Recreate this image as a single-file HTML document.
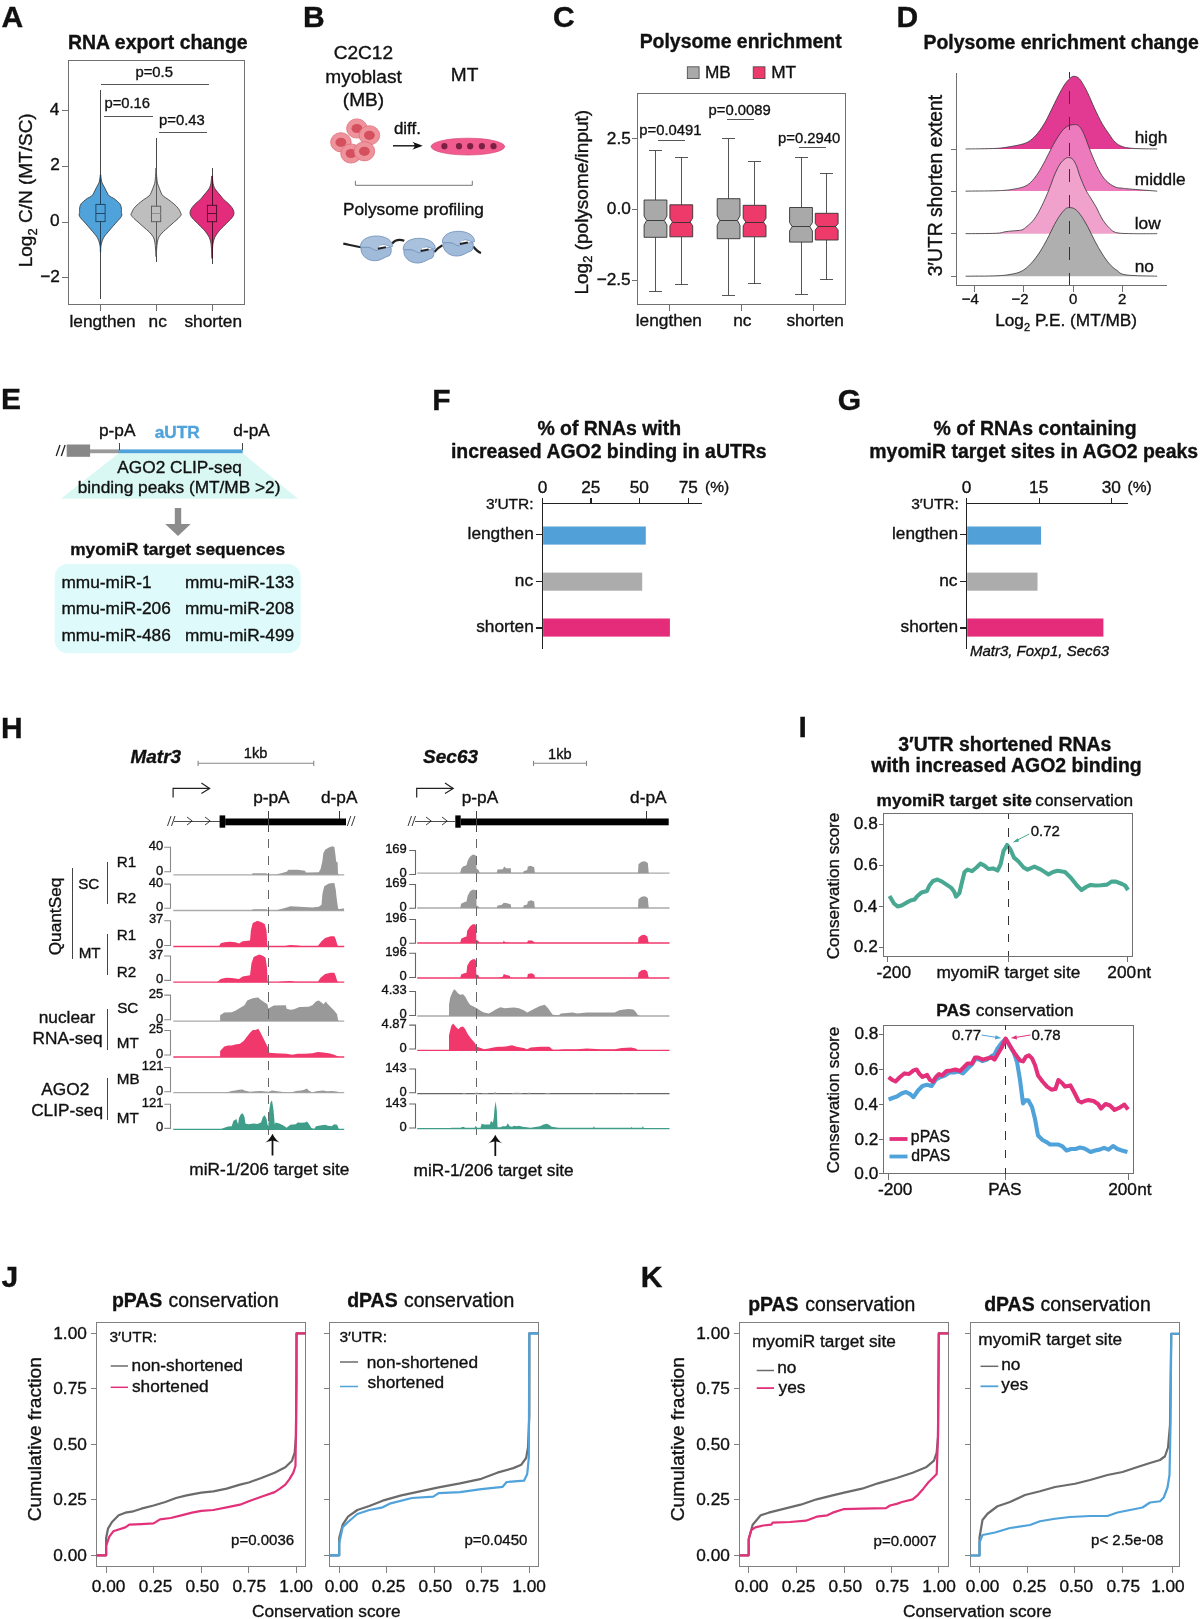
<!DOCTYPE html>
<html><head><meta charset="utf-8"><style>
html,body{margin:0;padding:0;background:#fff;}
svg{display:block;will-change:transform;}
text{font-family:"Liberation Sans", sans-serif;stroke:#111;stroke-width:0.35px;}
</style></head><body>
<svg width="1200" height="1619" viewBox="0 0 1200 1619">
<rect width="1200" height="1619" fill="#fff"/>
<g fill="#111">
<text x="1.60" y="26.80" font-size="30" font-weight="bold">A</text>
<text x="68.04" y="48.60" font-size="19.45" font-weight="bold">RNA export change</text>
<rect x="68.50" y="60.50" width="176.00" height="244.00" fill="none" stroke="#707070" stroke-width="1" shape-rendering="crispEdges"/>
<line x1="62.30" y1="110.50" x2="68.50" y2="110.50" stroke="#707070" stroke-width="1" shape-rendering="crispEdges"/>
<text x="49.86" y="114.70" font-size="17.25">4</text>
<line x1="62.30" y1="166.20" x2="68.50" y2="166.20" stroke="#707070" stroke-width="1" shape-rendering="crispEdges"/>
<text x="50.20" y="170.40" font-size="17.25">2</text>
<line x1="62.30" y1="222.00" x2="68.50" y2="222.00" stroke="#707070" stroke-width="1" shape-rendering="crispEdges"/>
<text x="50.03" y="226.20" font-size="17.25">0</text>
<line x1="62.30" y1="277.80" x2="68.50" y2="277.80" stroke="#707070" stroke-width="1" shape-rendering="crispEdges"/>
<text x="40.20" y="282.00" font-size="17.25">−2</text>
<line x1="100.50" y1="304.10" x2="100.50" y2="310.50" stroke="#707070" stroke-width="1" shape-rendering="crispEdges"/>
<line x1="156.30" y1="304.10" x2="156.30" y2="310.50" stroke="#707070" stroke-width="1" shape-rendering="crispEdges"/>
<line x1="212.10" y1="304.10" x2="212.10" y2="310.50" stroke="#707070" stroke-width="1" shape-rendering="crispEdges"/>
<text x="69.49" y="327.30" font-size="17.25">lengthen</text>
<text x="148.59" y="327.30" font-size="17.25">nc</text>
<text x="184.48" y="327.30" font-size="17.25">shorten</text>
<text transform="translate(32.0,190.3) rotate(-90)" text-anchor="middle" font-size="19">Log<tspan font-size="13" dy="4.5">2</tspan><tspan dy="-4.5"> C/N (MT/SC)</tspan></text>
<line x1="100.50" y1="90.30" x2="100.50" y2="298.60" stroke="#333" stroke-width="0.9" shape-rendering="crispEdges"/>
<path d="M100.70,174.50 C100.85,175.25 100.97,177.58 101.20,179.00 C101.43,180.42 101.57,181.63 102.10,183.00 C102.63,184.37 103.55,185.57 104.40,187.20 C105.25,188.83 106.37,191.32 107.20,192.80 C108.03,194.28 108.30,195.17 109.40,196.10 C110.50,197.03 112.50,197.55 113.80,198.40 C115.10,199.25 116.17,200.28 117.20,201.20 C118.23,202.12 119.35,202.98 120.00,203.90 C120.65,204.82 120.85,205.77 121.10,206.70 C121.35,207.63 121.47,208.57 121.50,209.50 C121.53,210.43 121.23,211.38 121.30,212.30 C121.37,213.22 122.03,214.08 121.90,215.00 C121.77,215.92 121.15,216.87 120.50,217.80 C119.85,218.73 119.25,219.20 118.00,220.60 C116.75,222.00 114.62,224.35 113.00,226.20 C111.38,228.05 109.83,229.85 108.30,231.70 C106.77,233.55 104.92,235.43 103.80,237.30 C102.68,239.17 102.10,241.23 101.60,242.90 C101.10,244.57 100.96,245.78 100.80,247.30 C100.64,248.82 100.73,251.22 100.65,252.00 C100.58,252.78 100.42,252.78 100.35,252.00 C100.27,251.22 100.36,248.82 100.20,247.30 C100.04,245.78 99.90,244.57 99.40,242.90 C98.90,241.23 98.32,239.17 97.20,237.30 C96.08,235.43 94.23,233.55 92.70,231.70 C91.17,229.85 89.62,228.05 88.00,226.20 C86.38,224.35 84.25,222.00 83.00,220.60 C81.75,219.20 81.15,218.73 80.50,217.80 C79.85,216.87 79.23,215.92 79.10,215.00 C78.97,214.08 79.63,213.22 79.70,212.30 C79.77,211.38 79.47,210.43 79.50,209.50 C79.53,208.57 79.65,207.63 79.90,206.70 C80.15,205.77 80.35,204.82 81.00,203.90 C81.65,202.98 82.77,202.12 83.80,201.20 C84.83,200.28 85.90,199.25 87.20,198.40 C88.50,197.55 90.50,197.03 91.60,196.10 C92.70,195.17 92.97,194.28 93.80,192.80 C94.63,191.32 95.75,188.83 96.60,187.20 C97.45,185.57 98.37,184.37 98.90,183.00 C99.43,181.63 99.57,180.42 99.80,179.00 C100.03,177.58 100.15,175.25 100.30,174.50Z" fill="#4FA2DA" stroke="#333" stroke-width="0.8"/>
<line x1="100.50" y1="174.50" x2="100.50" y2="252.00" stroke="#1d3f5a" stroke-width="0.95" shape-rendering="crispEdges"/>
<rect x="95.90" y="204.40" width="9.20" height="17.20" fill="#4FA2DA" stroke="#1d3f5a" stroke-width="0.9"/>
<line x1="95.90" y1="213.30" x2="105.10" y2="213.30" stroke="#1d3f5a" stroke-width="0.9" shape-rendering="crispEdges"/>
<line x1="156.10" y1="138.00" x2="156.10" y2="262.30" stroke="#333" stroke-width="0.9" shape-rendering="crispEdges"/>
<path d="M156.25,168.00 C156.34,169.00 156.39,172.18 156.50,174.00 C156.61,175.82 156.73,177.33 156.90,178.90 C157.07,180.47 157.08,181.82 157.50,183.40 C157.92,184.98 158.80,186.83 159.40,188.40 C160.00,189.97 160.45,191.52 161.10,192.80 C161.75,194.08 162.10,194.98 163.30,196.10 C164.50,197.22 166.53,198.20 168.30,199.50 C170.07,200.80 172.23,202.42 173.90,203.90 C175.57,205.38 177.18,206.92 178.30,208.40 C179.42,209.88 180.13,211.70 180.60,212.80 C181.07,213.90 181.48,214.07 181.10,215.00 C180.72,215.93 179.60,217.10 178.30,218.40 C177.00,219.70 174.97,221.32 173.30,222.80 C171.63,224.28 169.97,225.82 168.30,227.30 C166.63,228.78 164.78,230.22 163.30,231.70 C161.82,233.18 160.32,234.80 159.40,236.20 C158.48,237.60 158.22,238.53 157.80,240.10 C157.38,241.67 157.12,243.78 156.90,245.60 C156.68,247.42 156.61,249.27 156.50,251.00 C156.39,252.73 156.34,255.17 156.25,256.00 C156.16,256.83 156.04,256.83 155.95,256.00 C155.86,255.17 155.81,252.73 155.70,251.00 C155.59,249.27 155.52,247.42 155.30,245.60 C155.08,243.78 154.82,241.67 154.40,240.10 C153.98,238.53 153.72,237.60 152.80,236.20 C151.88,234.80 150.38,233.18 148.90,231.70 C147.42,230.22 145.57,228.78 143.90,227.30 C142.23,225.82 140.57,224.28 138.90,222.80 C137.23,221.32 135.20,219.70 133.90,218.40 C132.60,217.10 131.48,215.93 131.10,215.00 C130.72,214.07 131.13,213.90 131.60,212.80 C132.07,211.70 132.78,209.88 133.90,208.40 C135.02,206.92 136.63,205.38 138.30,203.90 C139.97,202.42 142.13,200.80 143.90,199.50 C145.67,198.20 147.70,197.22 148.90,196.10 C150.10,194.98 150.45,194.08 151.10,192.80 C151.75,191.52 152.20,189.97 152.80,188.40 C153.40,186.83 154.28,184.98 154.70,183.40 C155.12,181.82 155.13,180.47 155.30,178.90 C155.47,177.33 155.59,175.82 155.70,174.00 C155.81,172.18 155.86,169.00 155.95,168.00Z" fill="#BEBEBE" stroke="#333" stroke-width="0.8"/>
<line x1="156.10" y1="168.00" x2="156.10" y2="256.00" stroke="#555" stroke-width="0.95" shape-rendering="crispEdges"/>
<rect x="151.50" y="206.20" width="9.20" height="15.50" fill="#BEBEBE" stroke="#555" stroke-width="0.9"/>
<line x1="151.50" y1="213.90" x2="160.70" y2="213.90" stroke="#888" stroke-width="0.9" shape-rendering="crispEdges"/>
<line x1="212.00" y1="167.80" x2="212.00" y2="263.70" stroke="#333" stroke-width="0.9" shape-rendering="crispEdges"/>
<path d="M212.20,176.00 C212.32,176.48 212.40,177.67 212.55,178.90 C212.70,180.13 212.82,182.02 213.10,183.40 C213.38,184.78 213.73,186.10 214.20,187.20 C214.67,188.30 215.25,189.07 215.90,190.00 C216.55,190.93 217.27,191.78 218.10,192.80 C218.93,193.82 219.97,194.98 220.90,196.10 C221.83,197.22 222.58,198.38 223.70,199.50 C224.82,200.62 226.40,201.68 227.60,202.80 C228.80,203.92 229.98,205.08 230.90,206.20 C231.82,207.32 232.58,208.40 233.10,209.50 C233.62,210.60 234.00,211.68 234.00,212.80 C234.00,213.92 233.70,215.08 233.10,216.20 C232.50,217.32 231.42,218.40 230.40,219.50 C229.38,220.60 228.12,221.68 227.00,222.80 C225.88,223.92 224.82,225.08 223.70,226.20 C222.58,227.32 221.32,228.38 220.30,229.50 C219.28,230.62 218.52,231.60 217.60,232.90 C216.68,234.20 215.55,235.63 214.80,237.30 C214.05,238.97 213.47,241.05 213.10,242.90 C212.72,244.75 212.69,246.55 212.55,248.40 C212.41,250.25 212.32,252.40 212.25,254.00 C212.18,255.60 212.22,257.33 212.15,258.00 C212.08,258.67 211.92,258.67 211.85,258.00 C211.78,257.33 211.82,255.60 211.75,254.00 C211.68,252.40 211.59,250.25 211.45,248.40 C211.31,246.55 211.28,244.75 210.90,242.90 C210.53,241.05 209.95,238.97 209.20,237.30 C208.45,235.63 207.32,234.20 206.40,232.90 C205.48,231.60 204.72,230.62 203.70,229.50 C202.68,228.38 201.42,227.32 200.30,226.20 C199.18,225.08 198.12,223.92 197.00,222.80 C195.88,221.68 194.62,220.60 193.60,219.50 C192.58,218.40 191.50,217.32 190.90,216.20 C190.30,215.08 190.00,213.92 190.00,212.80 C190.00,211.68 190.38,210.60 190.90,209.50 C191.42,208.40 192.18,207.32 193.10,206.20 C194.02,205.08 195.20,203.92 196.40,202.80 C197.60,201.68 199.18,200.62 200.30,199.50 C201.42,198.38 202.17,197.22 203.10,196.10 C204.03,194.98 205.07,193.82 205.90,192.80 C206.73,191.78 207.45,190.93 208.10,190.00 C208.75,189.07 209.33,188.30 209.80,187.20 C210.27,186.10 210.62,184.78 210.90,183.40 C211.18,182.02 211.30,180.13 211.45,178.90 C211.60,177.67 211.68,176.48 211.80,176.00Z" fill="#E32C7B" stroke="#333" stroke-width="0.8"/>
<line x1="212.00" y1="176.00" x2="212.00" y2="258.00" stroke="#4a0f25" stroke-width="0.95" shape-rendering="crispEdges"/>
<rect x="207.40" y="205.30" width="9.20" height="16.40" fill="#E32C7B" stroke="#4a0f25" stroke-width="0.9"/>
<line x1="207.40" y1="213.40" x2="216.60" y2="213.40" stroke="#4a0f25" stroke-width="0.9" shape-rendering="crispEdges"/>
<line x1="100.50" y1="84.50" x2="209.40" y2="84.50" stroke="#555" stroke-width="1" shape-rendering="crispEdges"/>
<line x1="104.00" y1="116.40" x2="152.50" y2="116.40" stroke="#555" stroke-width="1" shape-rendering="crispEdges"/>
<line x1="158.50" y1="132.30" x2="207.00" y2="132.30" stroke="#555" stroke-width="1" shape-rendering="crispEdges"/>
<text x="135.51" y="77.30" font-size="14.8">p=0.5</text>
<text x="104.41" y="107.50" font-size="14.8">p=0.16</text>
<text x="159.11" y="125.40" font-size="14.8">p=0.43</text>
<text x="303.10" y="26.70" font-size="30" font-weight="bold">B</text>
<text x="333.65" y="59.40" font-size="19.1">C2C12</text>
<text x="325.36" y="82.90" font-size="19.1">myoblast</text>
<text x="342.85" y="106.00" font-size="19.1">(MB)</text>
<text x="450.77" y="81.30" font-size="19.1">MT</text>
<ellipse cx="356.9" cy="128.5" rx="10.3" ry="9.6" fill="#EE939B" stroke="#DE6E7B" stroke-width="0.8"/>
<ellipse cx="356.9" cy="128.5" rx="5.4" ry="4.6" fill="#D5505E"/>
<ellipse cx="369.4" cy="135.3" rx="10.3" ry="9.6" fill="#EE939B" stroke="#DE6E7B" stroke-width="0.8"/>
<ellipse cx="369.4" cy="135.3" rx="5.4" ry="4.6" fill="#D5505E"/>
<ellipse cx="340.9" cy="142.3" rx="10.3" ry="9.6" fill="#EE939B" stroke="#DE6E7B" stroke-width="0.8"/>
<ellipse cx="340.9" cy="142.3" rx="5.4" ry="4.6" fill="#D5505E"/>
<ellipse cx="351.0" cy="153.5" rx="10.3" ry="9.6" fill="#EE939B" stroke="#DE6E7B" stroke-width="0.8"/>
<ellipse cx="351.0" cy="153.5" rx="5.4" ry="4.6" fill="#D5505E"/>
<ellipse cx="364.4" cy="151.3" rx="10.3" ry="9.6" fill="#EE939B" stroke="#DE6E7B" stroke-width="0.8"/>
<ellipse cx="364.4" cy="151.3" rx="5.4" ry="4.6" fill="#D5505E"/>
<text x="393.92" y="134.40" font-size="16.9">diff.</text>
<line x1="393.00" y1="145.80" x2="416.00" y2="145.80" stroke="#111" stroke-width="1.4"/>
<path d="M422.7,145.8 C419.5,144.6 415.5,143 412.3,141.8 C413.8,143.3 414.6,144.6 414.6,145.8 C414.6,147 413.8,148.3 412.3,149.8 C415.5,148.6 419.5,147 422.7,145.8 Z" fill="#111" stroke="none" stroke-width="1"/>
<ellipse cx="467.9" cy="146.6" rx="36.8" ry="8.4" fill="#F25B8E" stroke="#D44A7C" stroke-width="0.7"/>
<circle cx="444.4" cy="146.2" r="3.1" fill="#7B2043"/>
<circle cx="459.0" cy="146.2" r="3.1" fill="#7B2043"/>
<circle cx="470.2" cy="146.2" r="3.1" fill="#7B2043"/>
<circle cx="481.9" cy="146.2" r="3.1" fill="#7B2043"/>
<circle cx="493.5" cy="146.2" r="3.1" fill="#7B2043"/>
<path d="M355.4,180.8 L355.4,185.3 L472.3,185.3 L472.3,180.8" fill="none" stroke="#666" stroke-width="0.9"/>
<text x="343.02" y="215.20" font-size="17.25">Polysome profiling</text>
<path d="M343.3,243.7 C350,245 356,246.5 362,247.3" fill="none" stroke="#222" stroke-width="2.2"/>
<path d="M392,243.7 C395,240 399,239 404.3,240.7" fill="none" stroke="#222" stroke-width="2.2"/>
<path d="M434.3,252 C437,249 439,247 442.5,245.3" fill="none" stroke="#222" stroke-width="2.2"/>
<path d="M473.2,246.5 C476,250 478,252 481,253" fill="none" stroke="#222" stroke-width="2.2"/>
<path d="M361.2,247.4 C359.9,254.4 366.4,260.7 374.4,260.7 C381.4,260.7 384.4,256.9 388.9,255.9 C391.4,254.9 391.4,250.4 391.0,247.4 Z" fill="#A0BAD9" stroke="#7594BE" stroke-width="0.9"/>
<path d="M360.4,247.20000000000002 C360.09999999999997,239.4 368.4,236.0 376.4,236.0 C385.4,236.0 393.0,240.4 392.4,246.4 C389.4,247.6 387.9,244.6 383.4,244.6 C379.9,244.6 378.9,250.6 376.9,250.6 C373.9,250.6 371.4,247.20000000000002 367.4,247.20000000000002 C364.4,247.20000000000002 362.4,247.6 360.4,247.20000000000002 Z" fill="#A9C1DD" stroke="#7594BE" stroke-width="0.9"/>
<ellipse cx="382.59999999999997" cy="247.0" rx="3.6" ry="1.7" fill="#fff"/>
<path d="M377.9,248.70000000000002 L385.9,247.20000000000002" fill="none" stroke="#222" stroke-width="2.0"/>
<path d="M404.0,249.7 C402.7,256.7 409.2,263.0 417.2,263.0 C424.2,263.0 427.2,259.2 431.7,258.2 C434.2,257.2 434.2,252.7 433.8,249.7 Z" fill="#A0BAD9" stroke="#7594BE" stroke-width="0.9"/>
<path d="M403.2,249.5 C402.9,241.7 411.2,238.29999999999998 419.2,238.29999999999998 C428.2,238.29999999999998 435.8,242.7 435.2,248.7 C432.2,249.89999999999998 430.7,246.89999999999998 426.2,246.89999999999998 C422.7,246.89999999999998 421.7,252.89999999999998 419.7,252.89999999999998 C416.7,252.89999999999998 414.2,249.5 410.2,249.5 C407.2,249.5 405.2,249.89999999999998 403.2,249.5 Z" fill="#A9C1DD" stroke="#7594BE" stroke-width="0.9"/>
<ellipse cx="425.4" cy="249.29999999999998" rx="3.6" ry="1.7" fill="#fff"/>
<path d="M420.7,251.0 L428.7,249.5" fill="none" stroke="#222" stroke-width="2.0"/>
<path d="M443.2,242.7 C441.9,249.7 448.4,256.0 456.4,256.0 C463.4,256.0 466.4,252.2 470.9,251.2 C473.4,250.2 473.4,245.7 473.0,242.7 Z" fill="#A0BAD9" stroke="#7594BE" stroke-width="0.9"/>
<path d="M442.4,242.5 C442.09999999999997,234.7 450.4,231.29999999999998 458.4,231.29999999999998 C467.4,231.29999999999998 475.0,235.7 474.4,241.7 C471.4,242.89999999999998 469.9,239.89999999999998 465.4,239.89999999999998 C461.9,239.89999999999998 460.9,245.89999999999998 458.9,245.89999999999998 C455.9,245.89999999999998 453.4,242.5 449.4,242.5 C446.4,242.5 444.4,242.89999999999998 442.4,242.5 Z" fill="#A9C1DD" stroke="#7594BE" stroke-width="0.9"/>
<ellipse cx="464.59999999999997" cy="242.29999999999998" rx="3.6" ry="1.7" fill="#fff"/>
<path d="M459.9,244.0 L467.9,242.5" fill="none" stroke="#222" stroke-width="2.0"/>
<text x="553.10" y="27.30" font-size="30" font-weight="bold">C</text>
<text x="639.64" y="48.20" font-size="19.45" font-weight="bold">Polysome enrichment</text>
<rect x="687.30" y="66.80" width="11.80" height="11.80" fill="#A9A9A9" stroke="#444" stroke-width="0.8"/>
<text x="704.92" y="78.30" font-size="17.25">MB</text>
<rect x="753.20" y="66.80" width="11.80" height="11.80" fill="#EE3A6B" stroke="#444" stroke-width="0.8"/>
<text x="771.22" y="78.30" font-size="17.25">MT</text>
<rect x="637.50" y="93.50" width="208.00" height="211.00" fill="none" stroke="#707070" stroke-width="1" shape-rendering="crispEdges"/>
<line x1="631.70" y1="138.70" x2="637.80" y2="138.70" stroke="#707070" stroke-width="1" shape-rendering="crispEdges"/>
<text x="606.81" y="143.50" font-size="17.25">2.5</text>
<line x1="631.70" y1="209.30" x2="637.80" y2="209.30" stroke="#707070" stroke-width="1" shape-rendering="crispEdges"/>
<text x="606.81" y="214.10" font-size="17.25">0.0</text>
<line x1="631.70" y1="280.00" x2="637.80" y2="280.00" stroke="#707070" stroke-width="1" shape-rendering="crispEdges"/>
<text x="596.63" y="284.80" font-size="17.25">−2.5</text>
<line x1="669.50" y1="304.50" x2="669.50" y2="311.20" stroke="#707070" stroke-width="1" shape-rendering="crispEdges"/>
<line x1="741.50" y1="304.50" x2="741.50" y2="311.20" stroke="#707070" stroke-width="1" shape-rendering="crispEdges"/>
<line x1="813.80" y1="304.50" x2="813.80" y2="311.20" stroke="#707070" stroke-width="1" shape-rendering="crispEdges"/>
<text x="635.79" y="326.20" font-size="17.25">lengthen</text>
<text x="733.29" y="326.20" font-size="17.25">nc</text>
<text x="786.38" y="326.20" font-size="17.25">shorten</text>
<text transform="translate(587.5,202.2) rotate(-90)" text-anchor="middle" font-size="19">Log<tspan font-size="13" dy="4.5">2</tspan><tspan dy="-4.5"> (polysome/input)</tspan></text>
<line x1="655.50" y1="150.00" x2="655.50" y2="200.00" stroke="#444" stroke-width="0.9" shape-rendering="crispEdges"/>
<line x1="655.50" y1="237.30" x2="655.50" y2="291.50" stroke="#444" stroke-width="0.9" shape-rendering="crispEdges"/>
<line x1="649.00" y1="150.00" x2="662.00" y2="150.00" stroke="#444" stroke-width="0.9" shape-rendering="crispEdges"/>
<line x1="649.00" y1="291.50" x2="662.00" y2="291.50" stroke="#444" stroke-width="0.9" shape-rendering="crispEdges"/>
<path d="M644.1,200 L666.9,200 L666.9,216.024 L664.3,220.5 L666.9,224.976 L666.9,237.3 L644.1,237.3 L644.1,224.976 L646.7,220.5 L644.1,216.024 Z" fill="#A9A9A9" stroke="#333" stroke-width="0.9"/>
<line x1="646.70" y1="220.50" x2="664.30" y2="220.50" stroke="#333" stroke-width="0.9" shape-rendering="crispEdges"/>
<line x1="681.30" y1="157.30" x2="681.30" y2="204.80" stroke="#444" stroke-width="0.9" shape-rendering="crispEdges"/>
<line x1="681.30" y1="236.80" x2="681.30" y2="284.50" stroke="#444" stroke-width="0.9" shape-rendering="crispEdges"/>
<line x1="674.80" y1="157.30" x2="687.80" y2="157.30" stroke="#444" stroke-width="0.9" shape-rendering="crispEdges"/>
<line x1="674.80" y1="284.50" x2="687.80" y2="284.50" stroke="#444" stroke-width="0.9" shape-rendering="crispEdges"/>
<path d="M669.9,204.8 L692.6999999999999,204.8 L692.6999999999999,218.16 L690.0999999999999,222 L692.6999999999999,225.84 L692.6999999999999,236.8 L669.9,236.8 L669.9,225.84 L672.5,222 L669.9,218.16 Z" fill="#EE3A6B" stroke="#333" stroke-width="0.9"/>
<line x1="672.50" y1="222.00" x2="690.10" y2="222.00" stroke="#333" stroke-width="0.9" shape-rendering="crispEdges"/>
<line x1="728.60" y1="138.70" x2="728.60" y2="198.70" stroke="#444" stroke-width="0.9" shape-rendering="crispEdges"/>
<line x1="728.60" y1="238.70" x2="728.60" y2="295.20" stroke="#444" stroke-width="0.9" shape-rendering="crispEdges"/>
<line x1="722.10" y1="138.70" x2="735.10" y2="138.70" stroke="#444" stroke-width="0.9" shape-rendering="crispEdges"/>
<line x1="722.10" y1="295.20" x2="735.10" y2="295.20" stroke="#444" stroke-width="0.9" shape-rendering="crispEdges"/>
<path d="M717.2,198.7 L740.0,198.7 L740.0,215.7 L737.4,220.5 L740.0,225.3 L740.0,238.7 L717.2,238.7 L717.2,225.3 L719.8000000000001,220.5 L717.2,215.7 Z" fill="#A9A9A9" stroke="#333" stroke-width="0.9"/>
<line x1="719.80" y1="220.50" x2="737.40" y2="220.50" stroke="#333" stroke-width="0.9" shape-rendering="crispEdges"/>
<line x1="754.60" y1="161.90" x2="754.60" y2="205.30" stroke="#444" stroke-width="0.9" shape-rendering="crispEdges"/>
<line x1="754.60" y1="236.80" x2="754.60" y2="283.50" stroke="#444" stroke-width="0.9" shape-rendering="crispEdges"/>
<line x1="748.10" y1="161.90" x2="761.10" y2="161.90" stroke="#444" stroke-width="0.9" shape-rendering="crispEdges"/>
<line x1="748.10" y1="283.50" x2="761.10" y2="283.50" stroke="#444" stroke-width="0.9" shape-rendering="crispEdges"/>
<path d="M743.2,205.3 L766.0,205.3 L766.0,218.22 L763.4,222 L766.0,225.78 L766.0,236.8 L743.2,236.8 L743.2,225.78 L745.8000000000001,222 L743.2,218.22 Z" fill="#EE3A6B" stroke="#333" stroke-width="0.9"/>
<line x1="745.80" y1="222.00" x2="763.40" y2="222.00" stroke="#333" stroke-width="0.9" shape-rendering="crispEdges"/>
<line x1="801.00" y1="157.30" x2="801.00" y2="207.50" stroke="#444" stroke-width="0.9" shape-rendering="crispEdges"/>
<line x1="801.00" y1="242.10" x2="801.00" y2="294.10" stroke="#444" stroke-width="0.9" shape-rendering="crispEdges"/>
<line x1="794.50" y1="157.30" x2="807.50" y2="157.30" stroke="#444" stroke-width="0.9" shape-rendering="crispEdges"/>
<line x1="794.50" y1="294.10" x2="807.50" y2="294.10" stroke="#444" stroke-width="0.9" shape-rendering="crispEdges"/>
<path d="M789.6,207.5 L812.4,207.5 L812.4,222.548 L809.8,226.7 L812.4,230.85199999999998 L812.4,242.1 L789.6,242.1 L789.6,230.85199999999998 L792.2,226.7 L789.6,222.548 Z" fill="#A9A9A9" stroke="#333" stroke-width="0.9"/>
<line x1="792.20" y1="226.70" x2="809.80" y2="226.70" stroke="#333" stroke-width="0.9" shape-rendering="crispEdges"/>
<line x1="826.70" y1="173.30" x2="826.70" y2="213.30" stroke="#444" stroke-width="0.9" shape-rendering="crispEdges"/>
<line x1="826.70" y1="240.00" x2="826.70" y2="279.50" stroke="#444" stroke-width="0.9" shape-rendering="crispEdges"/>
<line x1="820.20" y1="173.30" x2="833.20" y2="173.30" stroke="#444" stroke-width="0.9" shape-rendering="crispEdges"/>
<line x1="820.20" y1="279.50" x2="833.20" y2="279.50" stroke="#444" stroke-width="0.9" shape-rendering="crispEdges"/>
<path d="M815.3000000000001,213.3 L838.1,213.3 L838.1,223.49599999999998 L835.5,226.7 L838.1,229.904 L838.1,240.0 L815.3000000000001,240.0 L815.3000000000001,229.904 L817.9000000000001,226.7 L815.3000000000001,223.49599999999998 Z" fill="#EE3A6B" stroke="#333" stroke-width="0.9"/>
<line x1="817.90" y1="226.70" x2="835.50" y2="226.70" stroke="#333" stroke-width="0.9" shape-rendering="crispEdges"/>
<line x1="658.30" y1="140.00" x2="685.00" y2="140.00" stroke="#444" stroke-width="0.9" shape-rendering="crispEdges"/>
<text x="639.31" y="134.70" font-size="14.8">p=0.0491</text>
<line x1="727.00" y1="119.20" x2="754.30" y2="119.20" stroke="#444" stroke-width="0.9" shape-rendering="crispEdges"/>
<text x="708.61" y="114.70" font-size="14.8">p=0.0089</text>
<line x1="799.00" y1="147.20" x2="825.80" y2="147.20" stroke="#444" stroke-width="0.9" shape-rendering="crispEdges"/>
<text x="778.11" y="142.70" font-size="14.8">p=0.2940</text>
<text x="896.60" y="26.70" font-size="30" font-weight="bold">D</text>
<text x="923.44" y="49.00" font-size="19.45" font-weight="bold">Polysome enrichment change</text>
<path d="M965.58,148.97 C970.63,148.88 988.35,148.81 995.83,148.42 C1003.32,148.02 1005.92,147.35 1010.50,146.58 C1015.08,145.82 1019.97,144.90 1023.33,143.83 C1026.70,142.76 1028.22,142.00 1030.67,140.17 C1033.11,138.33 1035.56,135.89 1038.00,132.83 C1040.45,129.78 1042.89,126.11 1045.33,121.83 C1047.78,117.56 1050.22,112.06 1052.67,107.17 C1055.11,102.28 1057.86,96.47 1060.00,92.50 C1062.14,88.53 1063.67,85.84 1065.50,83.33 C1067.33,80.83 1069.47,78.63 1071.00,77.47 C1072.53,76.31 1073.45,76.31 1074.67,76.37 C1075.89,76.43 1077.11,76.83 1078.33,77.83 C1079.56,78.84 1080.47,79.97 1082.00,82.42 C1083.53,84.86 1085.36,88.07 1087.50,92.50 C1089.64,96.93 1092.39,103.81 1094.83,109.00 C1097.28,114.19 1099.72,119.39 1102.17,123.67 C1104.61,127.94 1107.36,131.61 1109.50,134.67 C1111.64,137.72 1112.86,140.01 1115.00,142.00 C1117.14,143.99 1119.28,145.51 1122.33,146.58 C1125.39,147.65 1127.53,148.02 1133.33,148.42 C1139.14,148.81 1153.20,148.88 1157.17,148.97 L1157.17,149.00 L965.58,149.00 Z" fill="#E23A93" stroke="none" stroke-width="1"/>
<path d="M965.58,148.97 C970.63,148.88 988.35,148.81 995.83,148.42 C1003.32,148.02 1005.92,147.35 1010.50,146.58 C1015.08,145.82 1019.97,144.90 1023.33,143.83 C1026.70,142.76 1028.22,142.00 1030.67,140.17 C1033.11,138.33 1035.56,135.89 1038.00,132.83 C1040.45,129.78 1042.89,126.11 1045.33,121.83 C1047.78,117.56 1050.22,112.06 1052.67,107.17 C1055.11,102.28 1057.86,96.47 1060.00,92.50 C1062.14,88.53 1063.67,85.84 1065.50,83.33 C1067.33,80.83 1069.47,78.63 1071.00,77.47 C1072.53,76.31 1073.45,76.31 1074.67,76.37 C1075.89,76.43 1077.11,76.83 1078.33,77.83 C1079.56,78.84 1080.47,79.97 1082.00,82.42 C1083.53,84.86 1085.36,88.07 1087.50,92.50 C1089.64,96.93 1092.39,103.81 1094.83,109.00 C1097.28,114.19 1099.72,119.39 1102.17,123.67 C1104.61,127.94 1107.36,131.61 1109.50,134.67 C1111.64,137.72 1112.86,140.01 1115.00,142.00 C1117.14,143.99 1119.28,145.51 1122.33,146.58 C1125.39,147.65 1127.53,148.02 1133.33,148.42 C1139.14,148.81 1153.20,148.88 1157.17,148.97" fill="none" stroke="#333" stroke-width="0.8"/>
<path d="M965.58,191.13 C970.63,191.07 988.35,191.01 995.83,190.77 C1003.32,190.52 1005.92,190.31 1010.50,189.67 C1015.08,189.03 1019.97,188.14 1023.33,186.92 C1026.70,185.70 1028.22,184.63 1030.67,182.33 C1033.11,180.04 1035.56,176.83 1038.00,173.17 C1040.45,169.50 1043.04,164.61 1045.33,160.33 C1047.63,156.06 1049.61,151.47 1051.75,147.50 C1053.89,143.53 1056.18,139.56 1058.17,136.50 C1060.15,133.45 1061.83,131.00 1063.67,129.17 C1065.50,127.33 1067.33,126.26 1069.17,125.50 C1071.00,124.74 1073.14,124.58 1074.67,124.58 C1076.20,124.58 1077.11,124.58 1078.33,125.50 C1079.56,126.42 1080.78,127.94 1082.00,130.08 C1083.22,132.22 1084.14,134.51 1085.67,138.33 C1087.20,142.15 1089.03,147.81 1091.17,153.00 C1093.31,158.20 1096.06,164.92 1098.50,169.50 C1100.95,174.08 1103.08,177.60 1105.83,180.50 C1108.58,183.40 1112.25,185.63 1115.00,186.92 C1117.75,188.20 1119.28,187.80 1122.33,188.20 C1125.39,188.60 1127.53,188.81 1133.33,189.30 C1139.14,189.79 1153.20,190.83 1157.17,191.13 L1157.17,191.10 L965.58,191.10 Z" fill="#EC7ABC" stroke="none" stroke-width="1"/>
<path d="M965.58,191.13 C970.63,191.07 988.35,191.01 995.83,190.77 C1003.32,190.52 1005.92,190.31 1010.50,189.67 C1015.08,189.03 1019.97,188.14 1023.33,186.92 C1026.70,185.70 1028.22,184.63 1030.67,182.33 C1033.11,180.04 1035.56,176.83 1038.00,173.17 C1040.45,169.50 1043.04,164.61 1045.33,160.33 C1047.63,156.06 1049.61,151.47 1051.75,147.50 C1053.89,143.53 1056.18,139.56 1058.17,136.50 C1060.15,133.45 1061.83,131.00 1063.67,129.17 C1065.50,127.33 1067.33,126.26 1069.17,125.50 C1071.00,124.74 1073.14,124.58 1074.67,124.58 C1076.20,124.58 1077.11,124.58 1078.33,125.50 C1079.56,126.42 1080.78,127.94 1082.00,130.08 C1083.22,132.22 1084.14,134.51 1085.67,138.33 C1087.20,142.15 1089.03,147.81 1091.17,153.00 C1093.31,158.20 1096.06,164.92 1098.50,169.50 C1100.95,174.08 1103.08,177.60 1105.83,180.50 C1108.58,183.40 1112.25,185.63 1115.00,186.92 C1117.75,188.20 1119.28,187.80 1122.33,188.20 C1125.39,188.60 1127.53,188.81 1133.33,189.30 C1139.14,189.79 1153.20,190.83 1157.17,191.13" fill="none" stroke="#333" stroke-width="0.8"/>
<path d="M965.58,233.67 C970.63,233.61 989.26,233.61 995.83,233.30 C1002.40,233.00 1002.25,232.23 1005.00,231.83 C1007.75,231.44 1009.58,231.22 1012.33,230.92 C1015.08,230.61 1019.06,230.77 1021.50,230.00 C1023.95,229.24 1024.86,228.17 1027.00,226.33 C1029.14,224.50 1031.89,222.36 1034.33,219.00 C1036.78,215.64 1039.22,211.06 1041.67,206.17 C1044.11,201.28 1046.86,194.86 1049.00,189.67 C1051.14,184.47 1052.67,179.28 1054.50,175.00 C1056.33,170.72 1058.17,166.75 1060.00,164.00 C1061.83,161.25 1063.97,159.57 1065.50,158.50 C1067.03,157.43 1067.95,157.43 1069.17,157.58 C1070.39,157.74 1071.61,158.04 1072.83,159.42 C1074.06,160.79 1075.28,162.93 1076.50,165.83 C1077.72,168.74 1078.64,172.86 1080.17,176.83 C1081.70,180.81 1083.83,186.00 1085.67,189.67 C1087.50,193.33 1089.33,195.78 1091.17,198.83 C1093.00,201.89 1094.83,204.64 1096.67,208.00 C1098.50,211.36 1100.03,215.64 1102.17,219.00 C1104.31,222.36 1107.06,225.88 1109.50,228.17 C1111.95,230.46 1112.86,231.83 1116.83,232.75 C1120.81,233.67 1126.61,233.52 1133.33,233.67 C1140.06,233.82 1153.20,233.67 1157.17,233.67 L1157.17,233.70 L965.58,233.70 Z" fill="#F0A2CD" stroke="none" stroke-width="1"/>
<path d="M965.58,233.67 C970.63,233.61 989.26,233.61 995.83,233.30 C1002.40,233.00 1002.25,232.23 1005.00,231.83 C1007.75,231.44 1009.58,231.22 1012.33,230.92 C1015.08,230.61 1019.06,230.77 1021.50,230.00 C1023.95,229.24 1024.86,228.17 1027.00,226.33 C1029.14,224.50 1031.89,222.36 1034.33,219.00 C1036.78,215.64 1039.22,211.06 1041.67,206.17 C1044.11,201.28 1046.86,194.86 1049.00,189.67 C1051.14,184.47 1052.67,179.28 1054.50,175.00 C1056.33,170.72 1058.17,166.75 1060.00,164.00 C1061.83,161.25 1063.97,159.57 1065.50,158.50 C1067.03,157.43 1067.95,157.43 1069.17,157.58 C1070.39,157.74 1071.61,158.04 1072.83,159.42 C1074.06,160.79 1075.28,162.93 1076.50,165.83 C1077.72,168.74 1078.64,172.86 1080.17,176.83 C1081.70,180.81 1083.83,186.00 1085.67,189.67 C1087.50,193.33 1089.33,195.78 1091.17,198.83 C1093.00,201.89 1094.83,204.64 1096.67,208.00 C1098.50,211.36 1100.03,215.64 1102.17,219.00 C1104.31,222.36 1107.06,225.88 1109.50,228.17 C1111.95,230.46 1112.86,231.83 1116.83,232.75 C1120.81,233.67 1126.61,233.52 1133.33,233.67 C1140.06,233.82 1153.20,233.67 1157.17,233.67" fill="none" stroke="#333" stroke-width="0.8"/>
<path d="M965.58,276.20 C970.63,276.14 988.35,276.14 995.83,275.84 C1003.32,275.53 1006.22,275.13 1010.50,274.37 C1014.78,273.60 1018.14,272.99 1021.50,271.25 C1024.86,269.51 1027.61,267.13 1030.67,263.92 C1033.72,260.71 1037.08,256.13 1039.83,252.00 C1042.58,247.88 1044.72,243.75 1047.17,239.17 C1049.61,234.58 1052.36,228.47 1054.50,224.50 C1056.64,220.53 1058.17,217.93 1060.00,215.33 C1061.83,212.74 1063.91,210.20 1065.50,208.92 C1067.09,207.63 1068.01,207.63 1069.53,207.63 C1071.06,207.63 1072.90,207.79 1074.67,208.92 C1076.44,210.05 1078.03,211.52 1080.17,214.42 C1082.31,217.32 1085.06,221.90 1087.50,226.33 C1089.95,230.77 1092.39,236.42 1094.83,241.00 C1097.28,245.58 1099.72,250.02 1102.17,253.83 C1104.61,257.65 1107.06,261.17 1109.50,263.92 C1111.95,266.67 1114.08,268.50 1116.83,270.34 C1119.58,272.17 1119.28,273.94 1126.00,274.92 C1132.72,275.90 1151.97,275.99 1157.17,276.20 L1157.17,276.20 L965.58,276.20 Z" fill="#AFAFAF" stroke="none" stroke-width="1"/>
<path d="M965.58,276.20 C970.63,276.14 988.35,276.14 995.83,275.84 C1003.32,275.53 1006.22,275.13 1010.50,274.37 C1014.78,273.60 1018.14,272.99 1021.50,271.25 C1024.86,269.51 1027.61,267.13 1030.67,263.92 C1033.72,260.71 1037.08,256.13 1039.83,252.00 C1042.58,247.88 1044.72,243.75 1047.17,239.17 C1049.61,234.58 1052.36,228.47 1054.50,224.50 C1056.64,220.53 1058.17,217.93 1060.00,215.33 C1061.83,212.74 1063.91,210.20 1065.50,208.92 C1067.09,207.63 1068.01,207.63 1069.53,207.63 C1071.06,207.63 1072.90,207.79 1074.67,208.92 C1076.44,210.05 1078.03,211.52 1080.17,214.42 C1082.31,217.32 1085.06,221.90 1087.50,226.33 C1089.95,230.77 1092.39,236.42 1094.83,241.00 C1097.28,245.58 1099.72,250.02 1102.17,253.83 C1104.61,257.65 1107.06,261.17 1109.50,263.92 C1111.95,266.67 1114.08,268.50 1116.83,270.34 C1119.58,272.17 1119.28,273.94 1126.00,274.92 C1132.72,275.90 1151.97,275.99 1157.17,276.20" fill="none" stroke="#333" stroke-width="0.8"/>
<line x1="1069.40" y1="72.00" x2="1069.40" y2="285.30" stroke="#333" stroke-width="1.1" stroke-dasharray="13.2,12.75" stroke-dashoffset="7.1" shape-rendering="crispEdges"/>
<line x1="956.50" y1="72.50" x2="956.50" y2="285.50" stroke="#707070" stroke-width="1" shape-rendering="crispEdges"/>
<line x1="956.50" y1="285.50" x2="1166.70" y2="285.50" stroke="#707070" stroke-width="1" shape-rendering="crispEdges"/>
<line x1="950.70" y1="149.00" x2="956.80" y2="149.00" stroke="#707070" stroke-width="1" shape-rendering="crispEdges"/>
<line x1="950.70" y1="191.10" x2="956.80" y2="191.10" stroke="#707070" stroke-width="1" shape-rendering="crispEdges"/>
<line x1="950.70" y1="233.70" x2="956.80" y2="233.70" stroke="#707070" stroke-width="1" shape-rendering="crispEdges"/>
<line x1="950.70" y1="276.20" x2="956.80" y2="276.20" stroke="#707070" stroke-width="1" shape-rendering="crispEdges"/>
<line x1="974.50" y1="285.30" x2="974.50" y2="291.50" stroke="#707070" stroke-width="1" shape-rendering="crispEdges"/>
<text x="961.75" y="303.50" font-size="15">−4</text>
<line x1="1023.90" y1="285.30" x2="1023.90" y2="291.50" stroke="#707070" stroke-width="1" shape-rendering="crispEdges"/>
<text x="1011.45" y="303.50" font-size="15">−2</text>
<line x1="1073.20" y1="285.30" x2="1073.20" y2="291.50" stroke="#707070" stroke-width="1" shape-rendering="crispEdges"/>
<text x="1069.00" y="303.50" font-size="15">0</text>
<line x1="1122.30" y1="285.30" x2="1122.30" y2="291.50" stroke="#707070" stroke-width="1" shape-rendering="crispEdges"/>
<text x="1118.10" y="303.50" font-size="15">2</text>
<text x="995.2" y="326.0" font-size="17.25">Log<tspan font-size="11" dy="5">2</tspan><tspan dy="-5"> P.E. (MT/MB)</tspan></text>
<text transform="translate(942.3,185.6) rotate(-90)" text-anchor="middle" font-size="19.3">3′UTR shorten extent</text>
<text x="1134.79" y="142.70" font-size="17.25">high</text>
<text x="1134.79" y="185.30" font-size="17.25">middle</text>
<text x="1134.79" y="228.80" font-size="17.25">low</text>
<text x="1134.79" y="272.00" font-size="17.25">no</text>
<text x="1.10" y="409.30" font-size="30" font-weight="bold">E</text>
<path d="M118.7,453.3 L242.7,453.3 L298,498.7 L60.8,498.7 Z" fill="#DAF8F3" stroke="none" stroke-width="1"/>
<text x="98.97" y="436.00" font-size="17.25">p-pA</text>
<text x="154.68" y="438.10" font-size="17.25" font-weight="bold" fill="#4FA2DA" style="stroke:#4FA2DA">aUTR</text>
<text x="233.31" y="436.00" font-size="17.25">d-pA</text>
<path d="M56.2,456 L60,445 M61.3,456 L65.1,445" fill="none" stroke="#222" stroke-width="1.3"/>
<rect x="66.70" y="444.50" width="23.40" height="12.30" fill="#888" stroke="none" stroke-width="1"/>
<rect x="90.00" y="449.40" width="29.00" height="3.80" fill="#999" stroke="none" stroke-width="1"/>
<rect x="118.70" y="449.40" width="124.00" height="3.80" fill="#4FA2DA" stroke="none" stroke-width="1"/>
<line x1="119.20" y1="442.50" x2="119.20" y2="450.00" stroke="#333" stroke-width="0.9" shape-rendering="crispEdges"/>
<line x1="242.10" y1="442.50" x2="242.10" y2="450.00" stroke="#333" stroke-width="0.9" shape-rendering="crispEdges"/>
<text x="117.30" y="473.30" font-size="17.25">AGO2 CLIP-seq</text>
<text x="77.67" y="493.30" font-size="17.25">binding peaks (MT/MB &gt;2)</text>
<path d="M174.8,508 L181.2,508 L181.2,524 L190.7,524 L178,536 L165.2,524 L174.8,524 Z" fill="#8C8C8C" stroke="none" stroke-width="1"/>
<text x="70.29" y="554.70" font-size="17.25" font-weight="bold">myomiR target sequences</text>
<rect x="54.70" y="564.00" width="246.00" height="89.30" fill="#DEFAFA" stroke="none" stroke-width="1" rx="13" ry="13"/>
<text x="61.49" y="587.50" font-size="17.25">mmu-miR-1</text>
<text x="184.89" y="587.50" font-size="17.25">mmu-miR-133</text>
<text x="61.49" y="614.10" font-size="17.25">mmu-miR-206</text>
<text x="184.89" y="614.10" font-size="17.25">mmu-miR-208</text>
<text x="61.49" y="640.80" font-size="17.25">mmu-miR-486</text>
<text x="184.89" y="640.80" font-size="17.25">mmu-miR-499</text>
<text x="432.20" y="410.00" font-size="30" font-weight="bold">F</text>
<text x="537.41" y="434.50" font-size="19.45" font-weight="bold">% of RNAs with</text>
<text x="450.94" y="457.60" font-size="19.45" font-weight="bold">increased AGO2 binding in aUTRs</text>
<line x1="542.50" y1="503.50" x2="701.80" y2="503.50" stroke="#222" stroke-width="1.2" shape-rendering="crispEdges"/>
<line x1="542.50" y1="503.50" x2="542.50" y2="649.20" stroke="#222" stroke-width="1.2" shape-rendering="crispEdges"/>
<line x1="542.50" y1="497.80" x2="542.50" y2="503.50" stroke="#222" stroke-width="1.2" shape-rendering="crispEdges"/>
<text x="537.67" y="493.00" font-size="17.25">0</text>
<line x1="591.00" y1="497.80" x2="591.00" y2="503.50" stroke="#222" stroke-width="1.2" shape-rendering="crispEdges"/>
<text x="581.25" y="493.00" font-size="17.25">25</text>
<line x1="639.40" y1="497.80" x2="639.40" y2="503.50" stroke="#222" stroke-width="1.2" shape-rendering="crispEdges"/>
<text x="629.74" y="493.00" font-size="17.25">50</text>
<line x1="688.50" y1="497.80" x2="688.50" y2="503.50" stroke="#222" stroke-width="1.2" shape-rendering="crispEdges"/>
<text x="678.75" y="493.00" font-size="17.25">75</text>
<text x="705.07" y="492.40" font-size="15.5">(%)</text>
<text x="485.88" y="509.20" font-size="15.5">3′UTR:</text>
<rect x="543.10" y="526.50" width="102.70" height="18.10" fill="#51A1D8" stroke="none" stroke-width="1"/>
<line x1="536.20" y1="534.80" x2="542.50" y2="534.80" stroke="#222" stroke-width="1.2" shape-rendering="crispEdges"/>
<text x="467.57" y="539.20" font-size="17.25">lengthen</text>
<rect x="543.10" y="572.60" width="99.10" height="18.10" fill="#ACACAC" stroke="none" stroke-width="1"/>
<line x1="536.20" y1="581.30" x2="542.50" y2="581.30" stroke="#222" stroke-width="1.2" shape-rendering="crispEdges"/>
<text x="514.83" y="585.70" font-size="17.25">nc</text>
<rect x="543.10" y="618.50" width="126.80" height="18.10" fill="#E52C7A" stroke="none" stroke-width="1"/>
<line x1="536.20" y1="628.00" x2="542.50" y2="628.00" stroke="#222" stroke-width="1.2" shape-rendering="crispEdges"/>
<text x="476.19" y="632.40" font-size="17.25">shorten</text>
<text x="837.80" y="410.00" font-size="30" font-weight="bold">G</text>
<text x="933.61" y="434.50" font-size="19.45" font-weight="bold">% of RNAs containing</text>
<text x="869.34" y="457.60" font-size="19.45" font-weight="bold">myomiR target sites in AGO2 peaks</text>
<line x1="966.60" y1="503.50" x2="1127.80" y2="503.50" stroke="#222" stroke-width="1.2" shape-rendering="crispEdges"/>
<line x1="966.60" y1="503.50" x2="966.60" y2="649.20" stroke="#222" stroke-width="1.2" shape-rendering="crispEdges"/>
<line x1="966.60" y1="497.80" x2="966.60" y2="503.50" stroke="#222" stroke-width="1.2" shape-rendering="crispEdges"/>
<text x="961.77" y="493.00" font-size="17.25">0</text>
<line x1="1039.10" y1="497.80" x2="1039.10" y2="503.50" stroke="#222" stroke-width="1.2" shape-rendering="crispEdges"/>
<text x="1029.09" y="493.00" font-size="17.25">15</text>
<line x1="1111.30" y1="497.80" x2="1111.30" y2="503.50" stroke="#222" stroke-width="1.2" shape-rendering="crispEdges"/>
<text x="1101.64" y="493.00" font-size="17.25">30</text>
<text x="1127.57" y="492.40" font-size="15.5">(%)</text>
<text x="911.18" y="509.20" font-size="15.5">3′UTR:</text>
<rect x="967.20" y="526.50" width="73.80" height="18.10" fill="#51A1D8" stroke="none" stroke-width="1"/>
<line x1="960.30" y1="534.80" x2="966.60" y2="534.80" stroke="#222" stroke-width="1.2" shape-rendering="crispEdges"/>
<text x="891.97" y="539.20" font-size="17.25">lengthen</text>
<rect x="967.20" y="572.60" width="70.30" height="18.10" fill="#ACACAC" stroke="none" stroke-width="1"/>
<line x1="960.30" y1="581.30" x2="966.60" y2="581.30" stroke="#222" stroke-width="1.2" shape-rendering="crispEdges"/>
<text x="939.23" y="585.70" font-size="17.25">nc</text>
<rect x="967.20" y="618.50" width="136.20" height="18.10" fill="#E52C7A" stroke="none" stroke-width="1"/>
<line x1="960.30" y1="628.00" x2="966.60" y2="628.00" stroke="#222" stroke-width="1.2" shape-rendering="crispEdges"/>
<text x="900.59" y="632.40" font-size="17.25">shorten</text>
<text x="969.95" y="656.10" font-size="15" font-style="italic">Matr3, Foxp1, Sec63</text>
<text x="1.10" y="738.00" font-size="30" font-weight="bold">H</text>
<text transform="translate(60.8,916.5) rotate(-90)" text-anchor="middle" font-size="17.25">QuantSeq</text>
<line x1="72.80" y1="868.20" x2="72.80" y2="958.60" stroke="#444" stroke-width="1" shape-rendering="crispEdges"/>
<text x="78.24" y="888.60" font-size="15.2">SC</text>
<text x="78.68" y="957.70" font-size="15.2">MT</text>
<line x1="107.70" y1="861.90" x2="107.70" y2="904.00" stroke="#444" stroke-width="1" shape-rendering="crispEdges"/>
<line x1="107.70" y1="933.60" x2="107.70" y2="975.30" stroke="#444" stroke-width="1" shape-rendering="crispEdges"/>
<line x1="107.70" y1="1008.70" x2="107.70" y2="1050.40" stroke="#444" stroke-width="1" shape-rendering="crispEdges"/>
<line x1="107.70" y1="1078.20" x2="107.70" y2="1120.00" stroke="#444" stroke-width="1" shape-rendering="crispEdges"/>
<text x="116.78" y="866.50" font-size="15.2">R1</text>
<text x="116.78" y="903.00" font-size="15.2">R2</text>
<text x="116.78" y="940.10" font-size="15.2">R1</text>
<text x="116.78" y="977.20" font-size="15.2">R2</text>
<text x="117.24" y="1013.30" font-size="15.2">SC</text>
<text x="116.78" y="1047.60" font-size="15.2">MT</text>
<text x="116.78" y="1084.30" font-size="15.2">MB</text>
<text x="116.78" y="1122.70" font-size="15.2">MT</text>
<text x="38.79" y="1023.20" font-size="17.25">nuclear</text>
<text x="32.52" y="1044.00" font-size="17.25">RNA-seq</text>
<text x="41.30" y="1095.30" font-size="17.25">AGO2</text>
<text x="31.14" y="1116.00" font-size="17.25">CLIP-seq</text>
<text x="130.42" y="762.50" font-size="19" font-weight="bold" font-style="italic">Matr3</text>
<path d="M198.1,760.8 L198.1,766 M198.1,763.3 L313.75,763.3 M313.75,760.8 L313.75,766" fill="none" stroke="#888" stroke-width="1.1"/>
<text x="243.83" y="757.70" font-size="14.6">1kb</text>
<text x="253.16" y="802.50" font-size="17.25">p-pA</text>
<text x="321.01" y="802.50" font-size="17.25">d-pA</text>
<path d="M167.50,826.00 L171.00,816.00 M171.50,826.00 L175.00,816.00" fill="none" stroke="#222" stroke-width="0.9"/>
<line x1="174.00" y1="821.00" x2="219.60" y2="821.00" stroke="#222" stroke-width="0.8" shape-rendering="crispEdges"/>
<path d="M187.00,817.00 L192.20,821.00 L187.00,825.00" fill="none" stroke="#222" stroke-width="0.9"/>
<path d="M205.00,817.00 L210.20,821.00 L205.00,825.00" fill="none" stroke="#222" stroke-width="0.9"/>
<rect x="219.60" y="815.40" width="5.60" height="12.30" fill="#000" stroke="none" stroke-width="1"/>
<rect x="225.20" y="818.50" width="120.80" height="6.80" fill="#000" stroke="none" stroke-width="1"/>
<path d="M347.30,826.00 L350.80,816.00 M351.50,826.00 L355.00,816.00" fill="none" stroke="#222" stroke-width="0.9"/>
<line x1="339.40" y1="811.20" x2="339.40" y2="819.00" stroke="#222" stroke-width="0.9" shape-rendering="crispEdges"/>
<line x1="268.30" y1="811.20" x2="268.30" y2="831.70" stroke="#444" stroke-width="1.1" shape-rendering="crispEdges"/>
<path d="M173.10,797.6 L173.10,788.4 L209.60,788.4" fill="none" stroke="#222" stroke-width="1.2"/>
<path d="M201.40,783.1 L209.60,788.4 L201.40,793.6" fill="none" stroke="#222" stroke-width="1.2"/>
<text x="423.11" y="762.70" font-size="19" font-weight="bold" font-style="italic">Sec63</text>
<path d="M533.5,760.7 L533.5,765.9 M533.5,763.2 L586.5,763.2 M586.5,760.7 L586.5,765.9" fill="none" stroke="#888" stroke-width="1.1"/>
<text x="548.03" y="758.70" font-size="14.6">1kb</text>
<text x="461.76" y="802.70" font-size="17.25">p-pA</text>
<text x="630.11" y="802.70" font-size="17.25">d-pA</text>
<path d="M408.00,826.00 L411.50,816.00 M412.00,826.00 L415.50,816.00" fill="none" stroke="#222" stroke-width="0.9"/>
<line x1="414.50" y1="821.00" x2="455.30" y2="821.00" stroke="#222" stroke-width="0.8" shape-rendering="crispEdges"/>
<path d="M426.00,817.00 L431.20,821.00 L426.00,825.00" fill="none" stroke="#222" stroke-width="0.9"/>
<path d="M442.00,817.00 L447.20,821.00 L442.00,825.00" fill="none" stroke="#222" stroke-width="0.9"/>
<rect x="455.30" y="815.40" width="5.40" height="12.30" fill="#000" stroke="none" stroke-width="1"/>
<rect x="460.70" y="818.50" width="208.00" height="6.80" fill="#000" stroke="none" stroke-width="1"/>
<line x1="646.50" y1="811.20" x2="646.50" y2="819.00" stroke="#222" stroke-width="0.9" shape-rendering="crispEdges"/>
<line x1="476.60" y1="811.20" x2="476.60" y2="831.70" stroke="#444" stroke-width="1.1" shape-rendering="crispEdges"/>
<path d="M416.70,797.6 L416.70,788.4 L453.20,788.4" fill="none" stroke="#222" stroke-width="1.2"/>
<path d="M445.00,783.1 L453.20,788.4 L445.00,793.6" fill="none" stroke="#222" stroke-width="1.2"/>
<path d="M164.20,847.30 L170.50,847.30 L170.50,871.70 L164.20,871.70" fill="none" stroke="#8a8a8a" stroke-width="1.1"/>
<text x="148.76" y="849.90" font-size="13">40</text>
<text x="156.04" y="874.60" font-size="13">0</text>
<line x1="173.30" y1="874.80" x2="344.20" y2="874.80" stroke="#AAAAAA" stroke-width="1.3"/>
<path d="M251.83,874.42 L252.75,873.13 L266.50,873.13 L267.42,874.42 L275.67,874.42 L281.17,873.13 L286.67,871.67 L288.50,869.83 L297.67,869.83 L301.33,870.20 L305.00,870.75 L305.92,872.58 L308.67,872.58 L318.75,872.22 L320.58,868.92 L322.42,860.67 L323.33,853.33 L325.17,849.67 L328.83,847.47 L332.50,846.37 L334.33,846.92 L335.25,853.33 L336.17,861.58 L337.63,862.50 L338.00,873.87 L338.92,874.05 L338.92,874.80 L251.83,874.80 Z" fill="#999999" stroke="none" stroke-width="1"/>
<path d="M164.20,884.10 L170.50,884.10 L170.50,908.30 L164.20,908.30" fill="none" stroke="#8a8a8a" stroke-width="1.1"/>
<text x="148.76" y="886.70" font-size="13">40</text>
<text x="156.04" y="911.20" font-size="13">0</text>
<line x1="173.30" y1="910.50" x2="344.20" y2="910.50" stroke="#AAAAAA" stroke-width="1.3"/>
<path d="M251.83,910.53 L252.75,909.25 L266.50,909.25 L267.42,910.53 L275.67,910.53 L286.67,907.42 L290.33,906.13 L299.50,906.87 L312.33,907.42 L318.75,906.87 L321.50,904.67 L322.42,893.67 L324.25,886.33 L328.83,883.58 L334.33,883.03 L335.80,890.00 L336.53,897.33 L338.00,907.97 L338.92,909.25 L343.87,908.33 L343.87,910.53 L343.87,910.50 L251.83,910.50 Z" fill="#999999" stroke="none" stroke-width="1"/>
<path d="M164.20,920.80 L170.50,920.80 L170.50,945.50 L164.20,945.50" fill="none" stroke="#8a8a8a" stroke-width="1.1"/>
<text x="148.89" y="923.40" font-size="13">37</text>
<text x="156.04" y="948.40" font-size="13">0</text>
<line x1="173.30" y1="946.50" x2="344.20" y2="946.50" stroke="#F0386C" stroke-width="1.3"/>
<path d="M218.83,946.47 L220.67,943.17 L224.33,942.25 L229.83,941.70 L235.33,942.25 L239.00,943.53 L242.67,941.33 L250.00,940.42 L250.92,930.33 L252.75,923.00 L257.33,920.80 L261.00,922.08 L264.67,923.92 L266.50,930.33 L267.42,946.47 L284.83,946.47 L284.83,945.92 L290.33,945.00 L297.67,945.55 L301.33,946.10 L317.83,945.92 L321.50,941.33 L325.17,938.03 L330.67,936.20 L334.33,936.20 L335.80,939.50 L337.08,944.08 L338.00,946.47 L338.00,946.50 L218.83,946.50 Z" fill="#F0386C" stroke="none" stroke-width="1"/>
<path d="M164.20,956.00 L170.50,956.00 L170.50,980.40 L164.20,980.40" fill="none" stroke="#8a8a8a" stroke-width="1.1"/>
<text x="148.89" y="958.60" font-size="13">37</text>
<text x="156.04" y="983.30" font-size="13">0</text>
<line x1="173.30" y1="982.20" x2="344.20" y2="982.20" stroke="#F0386C" stroke-width="1.3"/>
<path d="M217.00,982.22 L220.67,978.92 L226.17,977.63 L231.67,978.00 L239.00,978.92 L242.67,976.53 L250.00,975.25 L251.47,963.33 L253.67,956.92 L259.17,954.53 L262.83,955.63 L265.58,957.83 L266.87,967.00 L267.78,982.22 L279.33,982.22 L279.33,981.67 L290.33,981.12 L295.83,981.67 L317.83,981.67 L320.58,977.63 L325.17,973.97 L330.67,972.87 L334.33,972.87 L335.80,976.17 L337.08,980.75 L338.00,982.22 L338.00,982.20 L217.00,982.20 Z" fill="#F0386C" stroke="none" stroke-width="1"/>
<path d="M164.20,995.10 L170.50,995.10 L170.50,1019.80 L164.20,1019.80" fill="none" stroke="#8a8a8a" stroke-width="1.1"/>
<text x="148.76" y="997.70" font-size="13">25</text>
<text x="156.04" y="1022.70" font-size="13">0</text>
<line x1="173.30" y1="1021.10" x2="344.20" y2="1021.10" stroke="#AAAAAA" stroke-width="1.3"/>
<path d="M220.12,1021.12 L220.12,1015.25 L224.33,1012.50 L231.67,1012.13 L235.33,1010.67 L239.92,1007.92 L244.50,1005.17 L247.25,1000.58 L250.00,999.30 L252.75,998.20 L255.50,997.83 L258.25,997.47 L261.00,1000.03 L264.67,1002.42 L267.42,1004.25 L268.33,1008.47 L271.08,1007.00 L273.83,1005.53 L285.75,1005.17 L286.67,1008.83 L290.33,1009.75 L294.00,1009.20 L299.50,1007.00 L308.67,1006.63 L312.33,1005.17 L316.00,1001.50 L318.75,1000.58 L321.50,1002.42 L323.33,1004.25 L326.08,1001.50 L327.00,1003.33 L330.67,1007.00 L334.33,1010.67 L337.08,1014.33 L338.00,1019.83 L338.92,1021.12 L338.92,1021.10 L220.12,1021.10 Z" fill="#999999" stroke="none" stroke-width="1"/>
<path d="M164.20,1030.50 L170.50,1030.50 L170.50,1055.00 L164.20,1055.00" fill="none" stroke="#8a8a8a" stroke-width="1.1"/>
<text x="148.76" y="1033.10" font-size="13">25</text>
<text x="156.04" y="1057.90" font-size="13">0</text>
<line x1="173.30" y1="1057.00" x2="344.20" y2="1057.00" stroke="#F0386C" stroke-width="1.3"/>
<path d="M220.12,1057.05 L220.12,1051.00 L224.33,1046.42 L228.00,1045.50 L231.67,1045.50 L235.33,1044.58 L239.92,1043.67 L243.58,1040.92 L247.25,1036.33 L250.00,1032.67 L252.75,1029.92 L255.50,1029.92 L258.25,1028.63 L260.08,1031.75 L262.83,1037.25 L265.58,1042.75 L268.33,1048.25 L269.25,1052.83 L275.67,1053.20 L286.67,1053.75 L292.17,1054.67 L297.67,1053.75 L305.00,1053.75 L312.33,1053.20 L317.83,1051.92 L323.33,1052.47 L328.83,1053.20 L334.33,1054.67 L338.00,1056.50 L339.83,1057.05 L339.83,1057.00 L220.12,1057.00 Z" fill="#F0386C" stroke="none" stroke-width="1"/>
<path d="M164.20,1067.50 L170.50,1067.50 L170.50,1091.70 L164.20,1091.70" fill="none" stroke="#8a8a8a" stroke-width="1.1"/>
<text x="141.74" y="1070.10" font-size="13">121</text>
<text x="156.04" y="1094.60" font-size="13">0</text>
<line x1="173.30" y1="1092.60" x2="344.20" y2="1092.60" stroke="#AAAAAA" stroke-width="1.3"/>
<path d="M224.33,1092.62 L228.00,1091.88 L231.67,1090.97 L235.33,1090.42 L239.00,1089.87 L242.67,1089.50 L244.50,1090.42 L250.00,1091.70 L255.50,1091.33 L261.00,1090.97 L268.33,1091.70 L272.00,1090.42 L277.50,1091.33 L286.67,1092.62 L292.17,1092.25 L295.83,1090.97 L301.33,1090.42 L305.00,1089.50 L306.83,1088.58 L308.67,1090.42 L312.33,1092.62 L316.00,1091.33 L323.33,1090.42 L327.00,1091.33 L332.50,1090.97 L338.00,1091.70 L339.83,1092.62 L339.83,1092.60 L224.33,1092.60 Z" fill="#999999" stroke="none" stroke-width="1"/>
<path d="M164.20,1104.20 L170.50,1104.20 L170.50,1128.40 L164.20,1128.40" fill="none" stroke="#8a8a8a" stroke-width="1.1"/>
<text x="141.74" y="1106.80" font-size="13">121</text>
<text x="156.04" y="1131.30" font-size="13">0</text>
<line x1="173.30" y1="1129.30" x2="344.20" y2="1129.30" stroke="#3E9E8A" stroke-width="1.3"/>
<path d="M220.67,1129.28 L224.33,1127.63 L228.00,1126.53 L231.67,1126.17 L233.50,1120.67 L235.33,1119.75 L236.25,1118.83 L238.08,1124.33 L239.00,1117.92 L240.83,1114.25 L242.67,1113.33 L244.50,1117.00 L245.42,1123.42 L248.17,1124.33 L253.67,1123.42 L257.33,1123.97 L261.00,1122.50 L262.83,1117.00 L264.67,1115.17 L266.50,1118.83 L267.42,1124.33 L268.33,1126.17 L269.25,1109.67 L270.53,1102.33 L272.00,1100.50 L273.47,1109.67 L274.75,1124.33 L275.67,1122.50 L279.33,1123.42 L283.00,1125.25 L286.67,1127.63 L290.33,1124.70 L295.83,1124.33 L297.67,1122.50 L301.33,1122.87 L305.00,1122.50 L306.83,1121.58 L308.67,1123.42 L311.42,1128.00 L314.17,1128.92 L316.00,1126.17 L321.50,1125.25 L325.17,1124.70 L327.92,1125.80 L331.58,1126.17 L334.33,1124.33 L337.08,1124.70 L338.92,1128.92 L339.83,1129.28 L339.83,1129.30 L220.67,1129.30 Z" fill="#3E9E8A" stroke="none" stroke-width="1"/>
<path d="M409.20,850.50 L415.50,850.50 L415.50,874.50 L409.20,874.50" fill="none" stroke="#666" stroke-width="1.1"/>
<text x="385.14" y="853.10" font-size="13">169</text>
<text x="399.44" y="877.40" font-size="13">0</text>
<line x1="417.20" y1="873.20" x2="669.50" y2="873.20" stroke="#AAAAAA" stroke-width="1.3"/>
<path d="M460.20,872.80 L461.13,868.83 L463.00,866.50 L466.50,865.33 L467.67,860.67 L469.53,857.17 L472.33,854.83 L474.67,854.83 L475.83,855.53 L476.53,868.83 L478.17,869.53 L479.80,872.80 L496.83,872.80 L497.53,869.53 L502.67,869.30 L504.30,866.50 L506.17,868.13 L510.83,868.37 L511.07,872.80 L522.97,872.80 L523.67,871.17 L527.17,870.00 L527.87,866.50 L530.67,865.80 L534.17,867.20 L534.87,872.80 L638.00,872.80 L638.47,864.17 L641.50,861.83 L645.00,861.37 L647.80,863.00 L648.73,872.80 L648.73,873.20 L460.20,873.20 Z" fill="#999999" stroke="none" stroke-width="1"/>
<path d="M409.20,884.50 L415.50,884.50 L415.50,908.30 L409.20,908.30" fill="none" stroke="#666" stroke-width="1.1"/>
<text x="385.14" y="887.10" font-size="13">169</text>
<text x="399.44" y="911.20" font-size="13">0</text>
<line x1="417.20" y1="908.00" x2="669.50" y2="908.00" stroke="#AAAAAA" stroke-width="1.3"/>
<path d="M460.20,908.03 L461.13,903.83 L464.17,902.20 L466.50,901.50 L467.67,895.67 L470.00,891.47 L472.33,889.83 L475.13,889.83 L476.30,891.00 L476.53,905.47 L478.17,906.17 L479.80,908.03 L496.83,908.03 L497.53,905.47 L501.50,905.00 L503.83,902.67 L507.33,903.13 L510.83,904.53 L511.07,908.03 L522.97,908.03 L523.67,905.47 L527.17,904.53 L527.87,901.50 L531.13,900.33 L534.17,901.50 L534.87,908.03 L638.00,908.03 L638.47,899.17 L641.50,896.83 L645.00,896.37 L647.80,898.00 L648.73,908.03 L648.73,908.00 L460.20,908.00 Z" fill="#999999" stroke="none" stroke-width="1"/>
<path d="M409.20,919.50 L415.50,919.50 L415.50,943.30 L409.20,943.30" fill="none" stroke="#666" stroke-width="1.1"/>
<text x="385.14" y="922.10" font-size="13">196</text>
<text x="399.44" y="946.20" font-size="13">0</text>
<line x1="417.20" y1="943.00" x2="669.50" y2="943.00" stroke="#F0386C" stroke-width="1.3"/>
<path d="M460.20,943.03 L461.13,938.83 L464.17,937.20 L466.50,936.50 L467.20,930.67 L470.00,926.47 L472.80,924.37 L475.13,924.37 L476.07,926.00 L476.30,940.00 L478.17,940.70 L479.80,943.03 L502.67,943.03 L503.83,940.47 L505.00,942.33 L510.83,943.03 L527.17,943.03 L527.87,940.47 L531.83,940.47 L534.63,942.33 L534.87,943.03 L638.00,943.03 L638.47,937.67 L641.50,935.33 L644.53,934.87 L647.33,936.50 L648.73,943.03 L648.73,943.00 L460.20,943.00 Z" fill="#F0386C" stroke="none" stroke-width="1"/>
<path d="M409.20,953.30 L415.50,953.30 L415.50,977.50 L409.20,977.50" fill="none" stroke="#666" stroke-width="1.1"/>
<text x="385.14" y="955.90" font-size="13">196</text>
<text x="399.44" y="980.40" font-size="13">0</text>
<line x1="417.20" y1="978.00" x2="669.50" y2="978.00" stroke="#F0386C" stroke-width="1.3"/>
<path d="M460.20,978.03 L461.13,974.53 L464.17,973.13 L466.50,972.67 L467.20,965.67 L470.00,961.00 L472.80,959.13 L475.13,959.37 L476.07,961.00 L476.30,974.53 L478.17,975.00 L479.80,978.03 L498.00,978.03 L502.67,976.87 L503.83,974.07 L506.17,975.00 L509.67,975.70 L510.83,978.03 L527.17,978.03 L527.87,974.07 L531.83,973.13 L534.63,975.00 L534.87,978.03 L638.00,978.03 L638.47,972.67 L641.50,970.33 L645.00,969.87 L647.33,971.50 L648.73,978.03 L648.73,978.00 L460.20,978.00 Z" fill="#F0386C" stroke="none" stroke-width="1"/>
<path d="M409.20,991.50 L415.50,991.50 L415.50,1015.50 L409.20,1015.50" fill="none" stroke="#666" stroke-width="1.1"/>
<text x="381.50" y="994.10" font-size="13">4.33</text>
<text x="399.44" y="1018.40" font-size="13">0</text>
<line x1="417.20" y1="1016.00" x2="669.50" y2="1016.00" stroke="#AAAAAA" stroke-width="1.3"/>
<path d="M449.00,1016.03 L449.00,1004.83 L450.17,997.83 L452.50,992.00 L454.13,989.20 L456.00,990.83 L457.87,993.17 L460.20,994.80 L463.00,994.33 L465.33,996.67 L467.67,1001.33 L470.00,1004.83 L473.50,1006.47 L477.00,1008.33 L480.50,1010.67 L484.00,1012.53 L488.67,1013.47 L492.17,1011.83 L495.67,1009.50 L500.33,1007.17 L505.00,1008.33 L509.67,1007.87 L514.33,1007.40 L519.00,1008.33 L523.67,1010.20 L527.17,1012.53 L530.67,1010.67 L535.33,1008.33 L540.00,1006.00 L544.67,1004.83 L548.17,1008.33 L550.50,1011.83 L552.83,1014.87 L558.67,1015.33 L561.00,1013.47 L572.67,1012.53 L577.33,1013.47 L582.00,1013.00 L586.67,1012.53 L593.67,1012.53 L605.33,1012.53 L614.67,1012.53 L619.33,1010.20 L624.00,1009.50 L628.67,1009.03 L633.33,1009.50 L635.67,1011.83 L638.00,1015.33 L640.33,1016.03 L640.33,1016.00 L449.00,1016.00 Z" fill="#999999" stroke="none" stroke-width="1"/>
<path d="M409.20,1025.10 L415.50,1025.10 L415.50,1049.00 L409.20,1049.00" fill="none" stroke="#666" stroke-width="1.1"/>
<text x="381.50" y="1027.70" font-size="13">4.87</text>
<text x="399.44" y="1051.90" font-size="13">0</text>
<line x1="417.20" y1="1050.30" x2="669.50" y2="1050.30" stroke="#F0386C" stroke-width="1.3"/>
<path d="M449.00,1050.33 L449.00,1035.17 L451.33,1025.83 L453.20,1023.50 L456.00,1027.00 L458.33,1029.33 L460.67,1027.00 L463.00,1026.53 L465.33,1029.33 L467.67,1034.00 L471.17,1038.67 L474.67,1042.87 L477.00,1046.83 L479.33,1047.53 L484.00,1049.17 L488.67,1048.47 L493.33,1047.53 L498.00,1046.83 L502.67,1046.83 L507.33,1046.13 L512.00,1045.20 L516.67,1046.83 L523.67,1048.00 L527.17,1049.17 L530.67,1047.53 L540.00,1046.83 L549.33,1046.83 L552.83,1049.87 L558.67,1049.87 L563.33,1049.17 L577.33,1049.17 L586.67,1048.47 L600.67,1049.17 L614.67,1049.17 L621.67,1048.00 L631.00,1047.53 L635.67,1048.47 L638.00,1050.33 L638.00,1050.30 L449.00,1050.30 Z" fill="#F0386C" stroke="none" stroke-width="1"/>
<path d="M409.20,1069.00 L415.50,1069.00 L415.50,1092.80 L409.20,1092.80" fill="none" stroke="#666" stroke-width="1.1"/>
<text x="385.14" y="1071.60" font-size="13">143</text>
<text x="399.44" y="1095.70" font-size="13">0</text>
<line x1="417.20" y1="1093.70" x2="669.50" y2="1093.70" stroke="#666666" stroke-width="1.3"/>
<path d="M461.83,1093.73 L463.00,1093.03 L465.33,1093.03 L466.50,1093.73 L474.67,1093.73 L475.13,1092.80 L478.17,1092.80 L479.33,1093.73 L481.67,1093.73 L482.13,1093.03 L487.50,1093.03 L488.67,1093.73 L493.33,1093.73 L494.03,1092.57 L496.13,1092.57 L496.83,1093.73 L511.53,1093.73 L512.00,1093.03 L516.67,1092.80 L521.33,1093.03 L523.67,1093.73 L527.17,1093.73 L527.87,1092.80 L529.73,1092.80 L530.67,1093.73 L544.67,1093.73 L545.13,1093.03 L549.33,1093.03 L550.50,1093.73 L592.50,1093.73 L593.20,1093.03 L594.83,1093.03 L595.53,1093.73 L622.83,1093.73 L623.53,1093.03 L625.17,1093.73 L633.33,1093.73 L633.80,1093.03 L636.13,1093.03 L636.83,1093.73 L636.83,1093.70 L461.83,1093.70 Z" fill="#999999" stroke="none" stroke-width="1"/>
<path d="M409.20,1104.00 L415.50,1104.00 L415.50,1128.00 L409.20,1128.00" fill="none" stroke="#666" stroke-width="1.1"/>
<text x="385.14" y="1106.60" font-size="13">143</text>
<text x="399.44" y="1130.90" font-size="13">0</text>
<line x1="417.20" y1="1128.70" x2="669.50" y2="1128.70" stroke="#3E9E8A" stroke-width="1.3"/>
<path d="M449.00,1128.73 L451.33,1127.80 L456.00,1127.80 L460.67,1127.80 L463.00,1126.87 L465.33,1127.80 L474.67,1127.80 L475.83,1125.70 L477.00,1127.80 L480.50,1127.80 L481.67,1123.83 L484.00,1124.53 L489.83,1124.53 L491.00,1120.80 L492.87,1122.67 L493.80,1118.00 L494.50,1108.67 L495.67,1101.20 L496.83,1111.00 L497.53,1127.33 L500.33,1127.33 L502.67,1126.17 L506.17,1126.17 L507.80,1123.13 L509.67,1126.17 L512.00,1126.87 L514.33,1125.70 L516.67,1126.17 L519.00,1125.70 L522.50,1126.87 L530.67,1127.80 L540.00,1126.17 L543.50,1124.53 L547.00,1123.83 L549.33,1125.00 L551.67,1126.87 L558.67,1127.80 L563.33,1127.80 L568.00,1127.80 L593.20,1127.80 L593.67,1126.17 L594.83,1127.80 L631.00,1127.80 L631.00,1126.87 L632.17,1127.80 L642.20,1127.80 L642.67,1126.17 L643.83,1127.80 L645.00,1128.73 L645.00,1128.70 L449.00,1128.70 Z" fill="#3E9E8A" stroke="none" stroke-width="1"/>
<line x1="268.30" y1="838.90" x2="268.30" y2="1135.00" stroke="#666" stroke-width="1.1" stroke-dasharray="9.2,7.85" shape-rendering="crispEdges"/>
<line x1="476.60" y1="838.90" x2="476.60" y2="1135.00" stroke="#666" stroke-width="1.1" stroke-dasharray="9.2,7.85" shape-rendering="crispEdges"/>
<line x1="272.50" y1="1155.50" x2="272.50" y2="1139.80" stroke="#111" stroke-width="1.8"/>
<path d="M272.50,1133.80 C274.50,1137.80 277.50,1141.30 279.80,1142.50 C276.50,1141.30 274.00,1140.70 272.50,1140.70 C271.00,1140.70 268.50,1141.30 265.20,1142.50 C267.50,1141.30 270.50,1137.80 272.50,1133.80 Z" fill="#111" stroke="none" stroke-width="1"/>
<line x1="495.30" y1="1156.00" x2="495.30" y2="1140.70" stroke="#111" stroke-width="1.8"/>
<path d="M495.30,1134.70 C497.30,1138.70 500.30,1142.20 502.60,1143.40 C499.30,1142.20 496.80,1141.60 495.30,1141.60 C493.80,1141.60 491.30,1142.20 488.00,1143.40 C490.30,1142.20 493.30,1138.70 495.30,1134.70 Z" fill="#111" stroke="none" stroke-width="1"/>
<text x="189.29" y="1175.30" font-size="17.25">miR-1/206 target site</text>
<text x="413.59" y="1176.00" font-size="17.25">miR-1/206 target site</text>
<text x="798.40" y="737.00" font-size="30" font-weight="bold">I</text>
<text x="898.21" y="750.60" font-size="19.45" font-weight="bold">3′UTR shortened RNAs</text>
<text x="871.30" y="772.40" font-size="19.45" font-weight="bold">with increased AGO2 binding</text>
<text x="876.59" y="806.00" font-size="17.25" font-weight="bold">myomiR target site</text>
<text x="1035.31" y="806.00" font-size="17.25">conservation</text>
<rect x="883.50" y="813.50" width="249.00" height="143.00" fill="none" stroke="#707070" stroke-width="1" shape-rendering="crispEdges"/>
<line x1="878.70" y1="824.30" x2="882.90" y2="824.30" stroke="#707070" stroke-width="1" shape-rendering="crispEdges"/>
<text x="853.78" y="829.30" font-size="17.25">0.8</text>
<line x1="878.70" y1="865.40" x2="882.90" y2="865.40" stroke="#707070" stroke-width="1" shape-rendering="crispEdges"/>
<text x="853.78" y="870.40" font-size="17.25">0.6</text>
<line x1="878.70" y1="906.50" x2="882.90" y2="906.50" stroke="#707070" stroke-width="1" shape-rendering="crispEdges"/>
<text x="853.44" y="911.50" font-size="17.25">0.4</text>
<line x1="878.70" y1="947.00" x2="882.90" y2="947.00" stroke="#707070" stroke-width="1" shape-rendering="crispEdges"/>
<text x="853.78" y="952.00" font-size="17.25">0.2</text>
<line x1="887.40" y1="956.00" x2="887.40" y2="962.00" stroke="#707070" stroke-width="1" shape-rendering="crispEdges"/>
<line x1="1008.00" y1="956.00" x2="1008.00" y2="962.00" stroke="#707070" stroke-width="1" shape-rendering="crispEdges"/>
<line x1="1127.40" y1="956.00" x2="1127.40" y2="962.00" stroke="#707070" stroke-width="1" shape-rendering="crispEdges"/>
<text x="876.51" y="978.20" font-size="17.25">-200</text>
<text x="936.49" y="978.20" font-size="17.25">myomiR target site</text>
<text x="1107.34" y="978.20" font-size="17.25">200</text>
<text x="1136.79" y="978.20" font-size="17.25">nt</text>
<text transform="translate(839,886) rotate(-90)" text-anchor="middle" font-size="17">Conservation score</text>
<path d="M889.51,896.01 L894.01,903.51 L897.61,906.51 L901.51,905.61 L906.01,902.91 L910.51,900.51 L914.41,899.61 L917.41,896.01 L921.61,892.41 L927.01,890.91 L929.41,885.51 L933.01,881.01 L937.51,879.51 L942.01,881.61 L946.51,884.61 L951.01,887.61 L954.01,891.51 L956.11,896.61 L959.41,893.01 L961.52,884.01 L964.52,872.01 L967.52,869.61 L972.02,871.11 L976.52,867.51 L980.42,863.61 L984.02,865.41 L988.52,869.01 L993.02,868.41 L997.52,870.51 L1000.52,864.51 L1003.52,851.01 L1007.12,845.00 L1010.42,849.50 L1014.02,857.61 L1018.52,861.51 L1023.62,867.51 L1027.52,869.61 L1034.42,866.61 L1041.02,869.61 L1048.52,874.41 L1053.02,872.01 L1057.52,870.81 L1065.03,872.01 L1071.03,878.01 L1077.03,885.51 L1081.53,890.01 L1086.03,887.01 L1090.53,884.91 L1095.03,885.51 L1101.03,885.21 L1107.03,884.61 L1111.53,881.61 L1116.03,881.61 L1122.03,884.01 L1125.03,885.51 L1128.03,890.01" fill="none" stroke="#48A892" stroke-width="4.1" stroke-linejoin="round"/>
<line x1="1008.50" y1="813.50" x2="1008.50" y2="956.00" stroke="#333" stroke-width="1.2" stroke-dasharray="8.6,9" stroke-dashoffset="3" shape-rendering="crispEdges"/>
<text x="1030.70" y="835.80" font-size="15">0.72</text>
<line x1="1029.30" y1="834.00" x2="1015.50" y2="841.00" stroke="#48A892" stroke-width="1"/>
<path d="M1017.6,838.3 L1012.7,842.4 L1019.2,841.6 Z" fill="#48A892" stroke="none" stroke-width="1"/>
<text x="936.29" y="1016.40" font-size="17.25" font-weight="bold">PAS</text>
<text x="975.81" y="1016.40" font-size="17.25">conservation</text>
<rect x="883.50" y="1025.50" width="250.00" height="148.00" fill="none" stroke="#707070" stroke-width="1" shape-rendering="crispEdges"/>
<line x1="879.10" y1="1034.10" x2="883.50" y2="1034.10" stroke="#707070" stroke-width="1" shape-rendering="crispEdges"/>
<text x="854.49" y="1039.40" font-size="17.25">0.8</text>
<line x1="879.10" y1="1069.50" x2="883.50" y2="1069.50" stroke="#707070" stroke-width="1" shape-rendering="crispEdges"/>
<text x="854.49" y="1074.80" font-size="17.25">0.6</text>
<line x1="879.10" y1="1104.60" x2="883.50" y2="1104.60" stroke="#707070" stroke-width="1" shape-rendering="crispEdges"/>
<text x="854.14" y="1109.90" font-size="17.25">0.4</text>
<line x1="879.10" y1="1139.40" x2="883.50" y2="1139.40" stroke="#707070" stroke-width="1" shape-rendering="crispEdges"/>
<text x="854.49" y="1144.70" font-size="17.25">0.2</text>
<line x1="879.10" y1="1173.60" x2="883.50" y2="1173.60" stroke="#707070" stroke-width="1" shape-rendering="crispEdges"/>
<text x="854.31" y="1178.90" font-size="17.25">0.0</text>
<line x1="888.60" y1="1173.60" x2="888.60" y2="1179.60" stroke="#707070" stroke-width="1" shape-rendering="crispEdges"/>
<line x1="1005.60" y1="1173.60" x2="1005.60" y2="1179.60" stroke="#707070" stroke-width="1" shape-rendering="crispEdges"/>
<line x1="1128.00" y1="1173.60" x2="1128.00" y2="1179.60" stroke="#707070" stroke-width="1" shape-rendering="crispEdges"/>
<text x="877.91" y="1195.30" font-size="17.25">-200</text>
<text x="988.32" y="1195.30" font-size="17.25">PAS</text>
<text x="1108.14" y="1195.30" font-size="17.25">200</text>
<text x="1137.19" y="1195.30" font-size="17.25">nt</text>
<text transform="translate(839,1100) rotate(-90)" text-anchor="middle" font-size="17">Conservation score</text>
<line x1="1005.40" y1="1025.40" x2="1005.40" y2="1173.60" stroke="#333" stroke-width="1.2" stroke-dasharray="8.9,9.4" stroke-dashoffset="4" shape-rendering="crispEdges"/>
<path d="M888.61,1099.51 L892.51,1098.01 L897.01,1096.51 L901.51,1093.51 L906.01,1092.01 L910.51,1094.41 L913.51,1097.11 L918.01,1090.51 L922.51,1086.01 L927.01,1084.81 L931.51,1086.01 L936.01,1079.41 L940.51,1077.01 L945.01,1075.51 L949.51,1072.51 L954.01,1072.51 L958.51,1071.61 L963.02,1073.41 L967.52,1068.61 L972.02,1064.41 L975.02,1059.61 L978.02,1059.01 L982.52,1061.11 L987.02,1059.61 L991.52,1056.01 L994.52,1054.51 L997.52,1048.51 L1002.02,1042.51 L1005.62,1038.90 L1009.52,1045.51 L1014.02,1053.01 L1017.02,1062.01 L1020.02,1080.01 L1023.02,1103.41 L1025.42,1100.41 L1028.42,1100.41 L1032.02,1107.01 L1035.02,1119.01 L1038.02,1135.51 L1042.52,1140.02 L1047.02,1142.42 L1050.02,1144.52 L1054.52,1144.52 L1058.42,1144.52 L1062.03,1146.02 L1066.53,1150.52 L1071.03,1149.02 L1075.53,1149.02 L1080.03,1147.52 L1084.53,1148.42 L1090.53,1152.02 L1095.03,1150.52 L1099.53,1149.62 L1104.03,1147.82 L1108.53,1149.62 L1113.03,1146.02 L1117.53,1149.02 L1122.03,1150.52 L1127.43,1152.02" fill="none" stroke="#4FA2DA" stroke-width="4.1" stroke-linejoin="round"/>
<path d="M888.61,1077.01 L892.51,1080.01 L895.51,1081.51 L900.01,1077.01 L904.51,1073.41 L909.01,1074.01 L913.51,1070.41 L916.51,1069.51 L919.51,1074.01 L922.51,1077.01 L927.01,1074.91 L930.01,1080.01 L933.01,1081.51 L936.01,1077.01 L939.01,1074.01 L942.01,1075.51 L946.51,1071.01 L951.01,1070.41 L955.51,1069.51 L960.02,1071.01 L964.52,1066.51 L967.52,1063.51 L972.02,1063.51 L975.02,1057.51 L978.02,1057.51 L982.52,1059.61 L987.02,1058.41 L991.52,1057.51 L994.52,1059.61 L997.52,1054.51 L1002.02,1047.01 L1005.62,1038.60 L1008.02,1042.51 L1011.62,1048.51 L1015.52,1054.51 L1020.02,1060.51 L1023.02,1061.41 L1026.02,1056.61 L1029.02,1055.41 L1032.02,1058.41 L1035.02,1065.01 L1038.02,1075.51 L1042.52,1081.51 L1047.02,1086.61 L1051.52,1089.61 L1055.42,1089.01 L1058.42,1080.01 L1062.03,1083.01 L1065.03,1086.61 L1070.43,1085.41 L1074.03,1092.01 L1078.53,1101.01 L1081.53,1102.51 L1084.53,1101.01 L1088.43,1100.11 L1093.53,1101.01 L1098.03,1104.01 L1101.03,1108.51 L1105.53,1104.01 L1110.03,1105.51 L1114.53,1110.01 L1119.03,1107.91 L1124.43,1104.61 L1128.03,1109.41" fill="none" stroke="#E2307A" stroke-width="4.1" stroke-linejoin="round"/>
<text x="951.90" y="1040.10" font-size="15">0.77</text>
<text x="1031.40" y="1040.10" font-size="15">0.78</text>
<line x1="981.60" y1="1035.00" x2="997.50" y2="1037.60" stroke="#4FA2DA" stroke-width="1"/>
<path d="M995.6,1035.2 L1001.2,1038.1 L994.9,1039.4 Z" fill="#4FA2DA" stroke="none" stroke-width="1"/>
<line x1="1030.50" y1="1035.00" x2="1014.50" y2="1037.60" stroke="#E2307A" stroke-width="1"/>
<path d="M1016.4,1035.2 L1010.8,1038.1 L1017.1,1039.4 Z" fill="#E2307A" stroke="none" stroke-width="1"/>
<line x1="889.50" y1="1139.00" x2="907.50" y2="1139.00" stroke="#E2307A" stroke-width="3.8"/>
<text x="910.85" y="1142.40" font-size="15.8">pPAS</text>
<line x1="889.50" y1="1156.50" x2="907.50" y2="1156.50" stroke="#4FA2DA" stroke-width="3.8"/>
<text x="911.17" y="1161.00" font-size="15.8">dPAS</text>
<text x="1.50" y="1287.30" font-size="30" font-weight="bold">J</text>
<text x="111.94" y="1307.30" font-size="19.45" font-weight="bold">pPAS</text>
<text x="168.52" y="1307.30" font-size="19.45">conservation</text>
<text x="347.22" y="1307.30" font-size="19.45" font-weight="bold">dPAS</text>
<text x="404.02" y="1307.30" font-size="19.45">conservation</text>
<rect x="96.50" y="1322.50" width="209.00" height="244.00" fill="none" stroke="#808080" stroke-width="1" shape-rendering="crispEdges"/>
<line x1="90.50" y1="1333.50" x2="96.50" y2="1333.50" stroke="#808080" stroke-width="1" shape-rendering="crispEdges"/>
<text x="53.25" y="1338.70" font-size="17.25">1.00</text>
<line x1="90.50" y1="1388.90" x2="96.50" y2="1388.90" stroke="#808080" stroke-width="1" shape-rendering="crispEdges"/>
<text x="53.25" y="1394.10" font-size="17.25">0.75</text>
<line x1="90.50" y1="1444.40" x2="96.50" y2="1444.40" stroke="#808080" stroke-width="1" shape-rendering="crispEdges"/>
<text x="53.25" y="1449.60" font-size="17.25">0.50</text>
<line x1="90.50" y1="1499.90" x2="96.50" y2="1499.90" stroke="#808080" stroke-width="1" shape-rendering="crispEdges"/>
<text x="53.25" y="1505.10" font-size="17.25">0.25</text>
<line x1="90.50" y1="1555.30" x2="96.50" y2="1555.30" stroke="#808080" stroke-width="1" shape-rendering="crispEdges"/>
<text x="53.25" y="1560.50" font-size="17.25">0.00</text>
<line x1="106.10" y1="1566.50" x2="106.10" y2="1572.70" stroke="#808080" stroke-width="1" shape-rendering="crispEdges"/>
<text x="91.78" y="1592.20" font-size="17.25">0.00</text>
<line x1="153.60" y1="1566.50" x2="153.60" y2="1572.70" stroke="#808080" stroke-width="1" shape-rendering="crispEdges"/>
<text x="138.68" y="1592.20" font-size="17.25">0.25</text>
<line x1="201.30" y1="1566.50" x2="201.30" y2="1572.70" stroke="#808080" stroke-width="1" shape-rendering="crispEdges"/>
<text x="185.48" y="1592.20" font-size="17.25">0.50</text>
<line x1="248.80" y1="1566.50" x2="248.80" y2="1572.70" stroke="#808080" stroke-width="1" shape-rendering="crispEdges"/>
<text x="232.48" y="1592.20" font-size="17.25">0.75</text>
<line x1="296.50" y1="1566.50" x2="296.50" y2="1572.70" stroke="#808080" stroke-width="1" shape-rendering="crispEdges"/>
<text x="279.34" y="1592.20" font-size="17.25">1.00</text>
<path d="M96.53,1555.33 L106.13,1555.33 L106.13,1538.00 L108.00,1528.67 L112.00,1522.00 L118.67,1515.33 L125.33,1512.67 L133.33,1511.33 L141.33,1508.67 L153.60,1505.47 L165.33,1502.00 L176.00,1498.00 L186.67,1495.33 L201.33,1492.67 L213.33,1491.33 L226.67,1488.67 L240.00,1484.67 L248.80,1482.53 L261.33,1478.00 L274.67,1472.67 L285.33,1467.33 L292.00,1460.67 L294.67,1452.67 L296.00,1436.67 L296.53,1335.33 L296.53,1333.47 L305.87,1333.47" fill="none" stroke="#6B6B6B" stroke-width="2.2" stroke-linejoin="round"/>
<path d="M96.53,1555.33 L106.13,1555.33 L106.13,1546.00 L109.33,1536.67 L113.33,1531.33 L118.67,1529.47 L125.33,1527.33 L129.33,1524.67 L141.33,1524.13 L153.60,1523.33 L160.00,1519.33 L170.67,1518.00 L181.33,1515.33 L192.00,1512.67 L201.33,1510.80 L213.33,1510.00 L226.67,1507.33 L240.00,1504.67 L248.80,1501.20 L261.33,1496.67 L274.67,1492.13 L280.00,1488.67 L285.33,1484.67 L289.33,1479.33 L293.33,1472.67 L295.47,1466.00 L296.53,1383.33 L296.53,1333.47 L305.87,1333.47" fill="none" stroke="#E2307A" stroke-width="2.2" stroke-linejoin="round"/>
<rect x="329.50" y="1322.50" width="209.00" height="244.00" fill="none" stroke="#808080" stroke-width="1" shape-rendering="crispEdges"/>
<line x1="323.50" y1="1333.50" x2="329.50" y2="1333.50" stroke="#808080" stroke-width="1" shape-rendering="crispEdges"/>
<line x1="323.50" y1="1388.90" x2="329.50" y2="1388.90" stroke="#808080" stroke-width="1" shape-rendering="crispEdges"/>
<line x1="323.50" y1="1444.40" x2="329.50" y2="1444.40" stroke="#808080" stroke-width="1" shape-rendering="crispEdges"/>
<line x1="323.50" y1="1499.90" x2="329.50" y2="1499.90" stroke="#808080" stroke-width="1" shape-rendering="crispEdges"/>
<line x1="323.50" y1="1555.30" x2="329.50" y2="1555.30" stroke="#808080" stroke-width="1" shape-rendering="crispEdges"/>
<line x1="339.20" y1="1566.50" x2="339.20" y2="1572.70" stroke="#808080" stroke-width="1" shape-rendering="crispEdges"/>
<text x="324.78" y="1592.20" font-size="17.25">0.00</text>
<line x1="386.70" y1="1566.50" x2="386.70" y2="1572.70" stroke="#808080" stroke-width="1" shape-rendering="crispEdges"/>
<text x="371.68" y="1592.20" font-size="17.25">0.25</text>
<line x1="434.10" y1="1566.50" x2="434.10" y2="1572.70" stroke="#808080" stroke-width="1" shape-rendering="crispEdges"/>
<text x="418.48" y="1592.20" font-size="17.25">0.50</text>
<line x1="481.90" y1="1566.50" x2="481.90" y2="1572.70" stroke="#808080" stroke-width="1" shape-rendering="crispEdges"/>
<text x="465.48" y="1592.20" font-size="17.25">0.75</text>
<line x1="529.30" y1="1566.50" x2="529.30" y2="1572.70" stroke="#808080" stroke-width="1" shape-rendering="crispEdges"/>
<text x="512.34" y="1592.20" font-size="17.25">1.00</text>
<path d="M329.33,1555.33 L339.20,1555.33 L339.20,1538.00 L342.67,1524.67 L348.00,1516.67 L357.33,1510.00 L369.33,1506.00 L382.67,1500.67 L401.33,1495.33 L420.00,1491.33 L438.67,1487.33 L460.00,1483.33 L481.33,1478.80 L497.33,1472.67 L513.33,1468.13 L521.33,1464.67 L526.13,1458.00 L528.00,1447.33 L529.33,1415.33 L529.33,1333.47 L538.67,1333.47" fill="none" stroke="#6B6B6B" stroke-width="2.2" stroke-linejoin="round"/>
<path d="M329.33,1555.33 L339.20,1555.33 L339.20,1543.33 L342.67,1527.33 L348.00,1522.00 L357.33,1514.00 L369.33,1510.00 L382.67,1507.33 L390.67,1503.33 L412.00,1498.00 L433.33,1496.67 L438.67,1493.20 L460.00,1492.13 L481.33,1489.20 L502.67,1486.80 L506.67,1482.00 L524.00,1480.67 L527.20,1474.00 L528.80,1458.00 L529.33,1333.47 L538.67,1333.47" fill="none" stroke="#4FA2DA" stroke-width="2.2" stroke-linejoin="round"/>
<text transform="translate(41.2,1439.2) rotate(-90)" text-anchor="middle" font-size="19.2">Cumulative fraction</text>
<text x="251.94" y="1616.80" font-size="17.25">Conservation score</text>
<text x="109.48" y="1342.00" font-size="15.5">3′UTR:</text>
<line x1="110.70" y1="1366.00" x2="128.00" y2="1366.00" stroke="#6B6B6B" stroke-width="1.5"/>
<text x="131.59" y="1370.80" font-size="17.25">non-shortened</text>
<line x1="110.70" y1="1387.30" x2="128.00" y2="1387.30" stroke="#E2307A" stroke-width="1.5"/>
<text x="131.98" y="1392.10" font-size="17.25">shortened</text>
<text x="231.10" y="1544.70" font-size="15">p=0.0036</text>
<text x="339.38" y="1342.00" font-size="15.5">3′UTR:</text>
<line x1="340.00" y1="1362.00" x2="358.10" y2="1362.00" stroke="#6B6B6B" stroke-width="1.5"/>
<text x="366.79" y="1368.10" font-size="17.25">non-shortened</text>
<line x1="340.00" y1="1386.50" x2="358.10" y2="1386.50" stroke="#4FA2DA" stroke-width="1.5"/>
<text x="367.48" y="1387.90" font-size="17.25">shortened</text>
<text x="464.40" y="1544.70" font-size="15">p=0.0450</text>
<text x="640.70" y="1287.30" font-size="30" font-weight="bold">K</text>
<text x="748.14" y="1310.80" font-size="19.45" font-weight="bold">pPAS</text>
<text x="805.22" y="1310.80" font-size="19.45">conservation</text>
<text x="984.22" y="1311.30" font-size="19.45" font-weight="bold">dPAS</text>
<text x="1040.52" y="1311.30" font-size="19.45">conservation</text>
<rect x="739.50" y="1322.50" width="209.00" height="244.00" fill="none" stroke="#808080" stroke-width="1" shape-rendering="crispEdges"/>
<line x1="733.50" y1="1333.50" x2="739.50" y2="1333.50" stroke="#808080" stroke-width="1" shape-rendering="crispEdges"/>
<text x="696.25" y="1338.70" font-size="17.25">1.00</text>
<line x1="733.50" y1="1388.90" x2="739.50" y2="1388.90" stroke="#808080" stroke-width="1" shape-rendering="crispEdges"/>
<text x="696.25" y="1394.10" font-size="17.25">0.75</text>
<line x1="733.50" y1="1444.40" x2="739.50" y2="1444.40" stroke="#808080" stroke-width="1" shape-rendering="crispEdges"/>
<text x="696.25" y="1449.60" font-size="17.25">0.50</text>
<line x1="733.50" y1="1499.90" x2="739.50" y2="1499.90" stroke="#808080" stroke-width="1" shape-rendering="crispEdges"/>
<text x="696.25" y="1505.10" font-size="17.25">0.25</text>
<line x1="733.50" y1="1555.30" x2="739.50" y2="1555.30" stroke="#808080" stroke-width="1" shape-rendering="crispEdges"/>
<text x="696.25" y="1560.50" font-size="17.25">0.00</text>
<line x1="748.70" y1="1566.50" x2="748.70" y2="1572.70" stroke="#808080" stroke-width="1" shape-rendering="crispEdges"/>
<text x="734.78" y="1592.20" font-size="17.25">0.00</text>
<line x1="796.70" y1="1566.50" x2="796.70" y2="1572.70" stroke="#808080" stroke-width="1" shape-rendering="crispEdges"/>
<text x="781.68" y="1592.20" font-size="17.25">0.25</text>
<line x1="844.10" y1="1566.50" x2="844.10" y2="1572.70" stroke="#808080" stroke-width="1" shape-rendering="crispEdges"/>
<text x="828.48" y="1592.20" font-size="17.25">0.50</text>
<line x1="891.30" y1="1566.50" x2="891.30" y2="1572.70" stroke="#808080" stroke-width="1" shape-rendering="crispEdges"/>
<text x="875.48" y="1592.20" font-size="17.25">0.75</text>
<line x1="938.80" y1="1566.50" x2="938.80" y2="1572.70" stroke="#808080" stroke-width="1" shape-rendering="crispEdges"/>
<text x="922.34" y="1592.20" font-size="17.25">1.00</text>
<path d="M739.33,1555.33 L748.67,1555.33 L748.67,1539.33 L752.67,1524.67 L760.67,1515.33 L768.67,1512.67 L784.67,1508.67 L800.67,1504.67 L816.67,1499.33 L832.67,1495.33 L844.13,1492.67 L862.00,1488.67 L878.00,1483.33 L896.67,1478.00 L912.67,1472.67 L926.00,1467.33 L934.00,1460.67 L936.67,1452.67 L938.00,1436.67 L938.80,1333.47 L948.67,1333.47" fill="none" stroke="#6B6B6B" stroke-width="2.2" stroke-linejoin="round"/>
<path d="M739.33,1555.33 L748.67,1555.33 L748.67,1539.33 L751.33,1530.00 L755.33,1527.33 L763.33,1525.47 L771.33,1524.67 L772.67,1522.53 L790.00,1522.00 L806.00,1520.67 L816.67,1516.67 L827.33,1515.33 L832.67,1512.67 L843.33,1509.20 L862.00,1508.67 L886.00,1508.13 L890.00,1505.47 L896.67,1503.87 L902.00,1502.00 L912.67,1499.33 L918.00,1494.80 L923.33,1488.67 L928.67,1482.00 L934.00,1476.67 L936.67,1474.00 L938.00,1436.67 L938.80,1333.47 L948.67,1333.47" fill="none" stroke="#E2307A" stroke-width="2.2" stroke-linejoin="round"/>
<rect x="970.50" y="1322.50" width="209.00" height="244.00" fill="none" stroke="#808080" stroke-width="1" shape-rendering="crispEdges"/>
<line x1="964.50" y1="1333.50" x2="970.50" y2="1333.50" stroke="#808080" stroke-width="1" shape-rendering="crispEdges"/>
<line x1="964.50" y1="1388.90" x2="970.50" y2="1388.90" stroke="#808080" stroke-width="1" shape-rendering="crispEdges"/>
<line x1="964.50" y1="1444.40" x2="970.50" y2="1444.40" stroke="#808080" stroke-width="1" shape-rendering="crispEdges"/>
<line x1="964.50" y1="1499.90" x2="970.50" y2="1499.90" stroke="#808080" stroke-width="1" shape-rendering="crispEdges"/>
<line x1="964.50" y1="1555.30" x2="970.50" y2="1555.30" stroke="#808080" stroke-width="1" shape-rendering="crispEdges"/>
<line x1="979.50" y1="1566.50" x2="979.50" y2="1572.70" stroke="#808080" stroke-width="1" shape-rendering="crispEdges"/>
<text x="965.78" y="1592.20" font-size="17.25">0.00</text>
<line x1="1027.00" y1="1566.50" x2="1027.00" y2="1572.70" stroke="#808080" stroke-width="1" shape-rendering="crispEdges"/>
<text x="1012.68" y="1592.20" font-size="17.25">0.25</text>
<line x1="1074.50" y1="1566.50" x2="1074.50" y2="1572.70" stroke="#808080" stroke-width="1" shape-rendering="crispEdges"/>
<text x="1059.48" y="1592.20" font-size="17.25">0.50</text>
<line x1="1122.50" y1="1566.50" x2="1122.50" y2="1572.70" stroke="#808080" stroke-width="1" shape-rendering="crispEdges"/>
<text x="1106.48" y="1592.20" font-size="17.25">0.75</text>
<line x1="1172.00" y1="1566.50" x2="1172.00" y2="1572.70" stroke="#808080" stroke-width="1" shape-rendering="crispEdges"/>
<text x="1151.14" y="1592.20" font-size="17.25">1.00</text>
<path d="M970.00,1555.50 L979.50,1555.50 L979.50,1537.50 L982.50,1520.00 L987.50,1513.75 L997.50,1506.25 L1010.00,1502.00 L1025.00,1495.00 L1040.00,1491.25 L1055.00,1487.00 L1075.00,1483.75 L1090.00,1480.00 L1107.50,1475.00 L1122.50,1472.00 L1137.50,1467.00 L1150.00,1463.00 L1160.00,1460.00 L1165.00,1456.25 L1168.00,1447.50 L1170.00,1425.00 L1171.25,1333.75 L1179.50,1333.75" fill="none" stroke="#6B6B6B" stroke-width="2.2" stroke-linejoin="round"/>
<path d="M970.00,1555.50 L979.50,1555.50 L979.50,1542.50 L982.50,1535.00 L995.00,1532.50 L1010.00,1528.00 L1030.00,1525.00 L1040.00,1521.25 L1055.00,1518.75 L1070.00,1517.00 L1090.00,1516.00 L1107.50,1516.00 L1117.50,1512.50 L1130.00,1510.00 L1142.50,1507.50 L1150.00,1502.50 L1160.00,1501.25 L1163.75,1497.50 L1167.50,1487.50 L1169.50,1475.00 L1170.50,1425.00 L1171.25,1333.75 L1179.50,1333.75" fill="none" stroke="#4FA2DA" stroke-width="2.2" stroke-linejoin="round"/>
<text transform="translate(683.9,1439.2) rotate(-90)" text-anchor="middle" font-size="19.2">Cumulative fraction</text>
<text x="902.94" y="1616.80" font-size="17.25">Conservation score</text>
<text x="751.99" y="1347.30" font-size="17.25">myomiR target site</text>
<line x1="756.70" y1="1370.50" x2="774.00" y2="1370.50" stroke="#6B6B6B" stroke-width="1.5"/>
<text x="777.29" y="1372.70" font-size="17.25">no</text>
<line x1="756.70" y1="1388.10" x2="774.00" y2="1388.10" stroke="#E2307A" stroke-width="1.8"/>
<text x="778.50" y="1392.70" font-size="17.25">yes</text>
<text x="873.60" y="1545.50" font-size="15">p=0.0007</text>
<text x="978.29" y="1344.50" font-size="17.25">myomiR target site</text>
<line x1="980.50" y1="1366.30" x2="998.30" y2="1366.30" stroke="#6B6B6B" stroke-width="1.5"/>
<text x="1001.29" y="1370.00" font-size="17.25">no</text>
<line x1="980.50" y1="1386.30" x2="998.30" y2="1386.30" stroke="#4FA2DA" stroke-width="1.8"/>
<text x="1001.30" y="1390.00" font-size="17.25">yes</text>
<text x="1091.10" y="1545.00" font-size="15">p&lt; 2.5e-08</text>
</g>
</svg></body></html>
